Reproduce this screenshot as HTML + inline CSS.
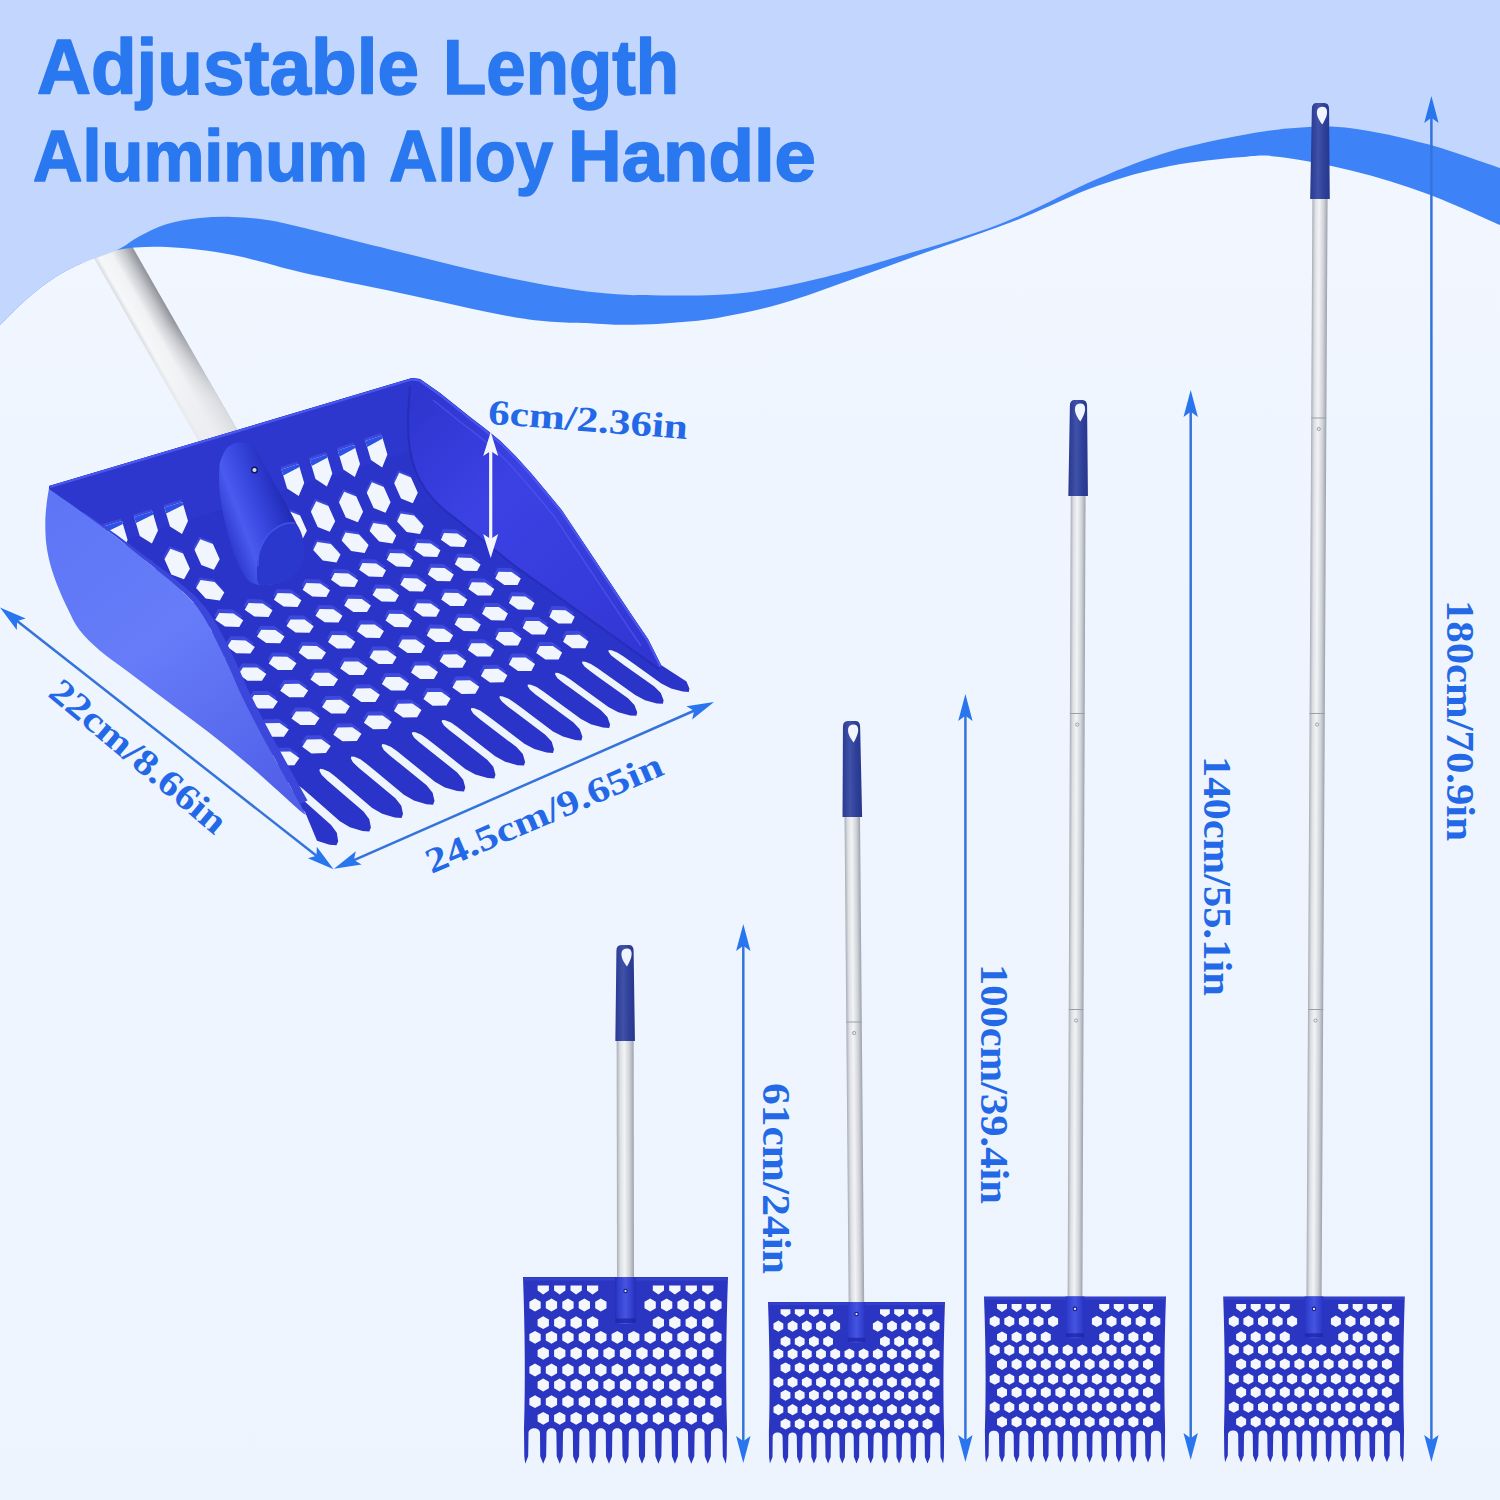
<!DOCTYPE html>
<html><head><meta charset="utf-8"><title>Adjustable Length Aluminum Alloy Handle</title>
<style>
html,body{margin:0;padding:0;background:#eef5fe}
svg{display:block}
.t{font-family:"Liberation Sans",sans-serif;font-weight:700;fill:#2a78f0}
.l{font-family:"Liberation Serif",serif;font-weight:700;fill:#2368e6}
</style></head><body>
<svg width="1500" height="1500" viewBox="0 0 1500 1500">
<defs><linearGradient id="bgl" x1="0" y1="0" x2="0" y2="1"><stop offset="0.12" stop-color="#f1f6ff"/><stop offset="0.45" stop-color="#eef5fe"/><stop offset="1" stop-color="#edf4fe"/></linearGradient></defs>
<rect x="0" y="0" width="1500" height="1500" fill="url(#bgl)"/>
<defs><linearGradient id="bpg" gradientUnits="userSpaceOnUse" x1="0" y1="0" x2="39" y2="0"><stop offset="0" stop-color="#d9dbe0"/><stop offset="0.12" stop-color="#f6f7f9"/><stop offset="0.45" stop-color="#f1f2f4"/><stop offset="0.75" stop-color="#c4c6cb"/><stop offset="1" stop-color="#8f9197"/></linearGradient><linearGradient id="bpf" gradientUnits="userSpaceOnUse" x1="0" y1="0" x2="0" y2="240"><stop offset="0" stop-color="#eef5fe" stop-opacity="0"/><stop offset="0.45" stop-color="#f4f5f7" stop-opacity="0"/><stop offset="0.8" stop-color="#eceef2" stop-opacity="0.75"/><stop offset="1" stop-color="#e9ebef" stop-opacity="0.85"/></linearGradient></defs>
<g transform="translate(87 246) rotate(-29.78)">
<rect x="0" y="-20" width="39" height="260" fill="url(#bpg)"/>
<rect x="0" y="-20" width="39" height="260" fill="url(#bpf)"/>
</g>
<path d="M0.0 325.0 C4.5 320.6 18.2 306.4 27.0 298.7 C35.8 291.0 44.2 284.5 53.0 278.7 C61.8 272.9 69.3 268.8 80.0 264.0 C90.7 259.2 102.5 252.8 117.0 250.0 C131.5 247.2 147.7 246.2 167.0 247.0 C186.3 247.8 210.8 250.8 233.0 255.0 C255.2 259.2 272.2 265.7 300.0 272.0 C327.8 278.3 362.8 285.2 400.0 293.0 C437.2 300.8 490.2 313.5 523.0 318.6 C555.8 323.7 578.7 322.7 597.0 323.7 C615.3 324.7 620.8 324.9 633.0 324.8 C645.2 324.7 657.7 323.9 670.0 323.0 C682.3 322.1 694.8 321.2 707.0 319.5 C719.2 317.8 730.8 315.6 743.0 313.0 C755.2 310.4 767.7 307.5 780.0 304.0 C792.3 300.5 804.8 296.2 817.0 292.0 C829.2 287.8 840.8 283.4 853.0 279.0 C865.2 274.6 877.7 270.0 890.0 265.5 C902.3 261.0 914.8 256.3 927.0 252.0 C939.2 247.7 947.0 245.2 963.0 239.5 C979.0 233.8 1000.7 226.4 1023.0 217.5 C1045.3 208.6 1072.5 194.6 1097.0 186.0 C1121.5 177.4 1145.7 170.8 1170.0 166.0 C1194.3 161.2 1224.7 158.5 1243.0 157.0 C1261.3 155.5 1261.7 154.7 1280.0 157.0 C1298.3 159.3 1328.5 164.9 1353.0 171.0 C1377.5 177.1 1402.5 184.7 1427.0 193.7 C1451.5 202.7 1487.8 219.8 1500.0 225.0 L1500 0 L0 0 Z" fill="#3d83f7"/>
<path d="M0.0 325.0 C4.5 320.6 18.2 306.4 27.0 298.7 C35.8 291.0 44.2 284.5 53.0 278.7 C61.8 272.9 69.3 268.8 80.0 264.0 C90.7 259.2 107.0 254.7 117.0 250.0 C127.0 245.3 131.7 240.3 140.0 236.0 C148.3 231.7 157.0 227.0 167.0 224.0 C177.0 221.0 189.0 219.2 200.0 218.0 C211.0 216.8 221.8 216.7 233.0 217.0 C244.2 217.3 255.8 218.3 267.0 220.0 C278.2 221.7 277.8 221.7 300.0 227.0 C322.2 232.3 366.7 243.8 400.0 252.0 C433.3 260.2 467.2 269.2 500.0 276.0 C532.8 282.8 568.7 289.4 597.0 292.6 C625.3 295.9 645.7 295.4 670.0 295.5 C694.3 295.6 718.5 295.8 743.0 293.0 C767.5 290.2 792.5 284.7 817.0 279.0 C841.5 273.3 859.5 268.2 890.0 259.0 C920.5 249.8 965.5 237.3 1000.0 224.0 C1034.5 210.7 1068.7 191.1 1097.0 179.0 C1125.3 166.9 1145.7 158.8 1170.0 151.5 C1194.3 144.2 1221.7 139.0 1243.0 135.0 C1264.3 131.0 1279.7 128.8 1298.0 127.7 C1316.3 126.6 1331.5 125.7 1353.0 128.4 C1374.5 131.1 1402.5 137.4 1427.0 144.0 C1451.5 150.6 1487.8 164.0 1500.0 168.0 L1500 0 L0 0 Z" fill="#c3d6fd"/>
<text x="37.0" y="93.5" font-size="77.5" textLength="382.0" lengthAdjust="spacingAndGlyphs" class="t" stroke="#2a78f0" stroke-width="1.6" stroke-linejoin="round">Adjustable</text>
<text x="443.0" y="93.5" font-size="77.5" textLength="236.0" lengthAdjust="spacingAndGlyphs" class="t" stroke="#2a78f0" stroke-width="1.6" stroke-linejoin="round">Length</text>
<text x="33.0" y="181.0" font-size="71.5" textLength="335.0" lengthAdjust="spacingAndGlyphs" class="t" stroke="#2a78f0" stroke-width="1.6" stroke-linejoin="round">Aluminum</text>
<text x="389.0" y="181.0" font-size="71.5" textLength="164.0" lengthAdjust="spacingAndGlyphs" class="t" stroke="#2a78f0" stroke-width="1.6" stroke-linejoin="round">Alloy</text>
<text x="568.0" y="181.0" font-size="71.5" textLength="248.0" lengthAdjust="spacingAndGlyphs" class="t" stroke="#2a78f0" stroke-width="1.6" stroke-linejoin="round">Handle</text>
<defs><linearGradient id="lw" gradientUnits="userSpaceOnUse" x1="60" y1="500" x2="290" y2="800"><stop offset="0" stop-color="#5e76f6"/><stop offset="0.45" stop-color="#667cf8"/><stop offset="1" stop-color="#4f5fe8"/></linearGradient><linearGradient id="rw" gradientUnits="userSpaceOnUse" x1="420" y1="400" x2="660" y2="660"><stop offset="0" stop-color="#2f36cf"/><stop offset="0.35" stop-color="#3c41e4"/><stop offset="1" stop-color="#3035d2"/></linearGradient><linearGradient id="bw" gradientUnits="userSpaceOnUse" x1="230" y1="430" x2="245" y2="480"><stop offset="0" stop-color="#2c36cc"/><stop offset="1" stop-color="#2a33c6"/></linearGradient></defs>
<path d="M49.0 486.0 L412.0 378.0 L420.0 379.0 L440.0 393.0 L455.0 405.0 L470.0 417.0 L485.0 428.5 L500.7 441.3 L516.0 456.5 L531.3 473.6 L546.0 491.0 L562.0 510.4 L577.0 533.0 L592.7 556.4 L608.0 579.4 L632.0 615.4 L648.0 639.0 L661.0 665.0 L686.5 681.4 L689.4 688.5 L688.8 691.9 L682.8 691.5 L671.1 688.4 L661.3 683.4 L631.7 662.3 L623.6 656.5 L617.2 652.5 L611.6 650.3 L608.7 650.0 L608.5 651.7 L611.0 655.2 L616.5 659.6 L624.6 665.4 L654.3 686.5 L660.8 693.1 L663.6 700.3 L662.9 703.8 L656.8 703.4 L645.0 700.2 L635.2 695.1 L605.4 673.8 L597.3 668.0 L590.9 663.9 L585.3 661.7 L582.3 661.4 L582.1 663.0 L584.5 666.6 L590.1 671.1 L598.2 676.9 L628.0 698.3 L634.4 705.0 L637.2 712.3 L636.4 715.8 L630.2 715.4 L618.3 712.2 L608.4 707.1 L578.6 685.4 L570.4 679.5 L564.1 675.4 L558.4 673.1 L555.4 672.8 L555.1 674.5 L557.5 678.2 L563.1 682.7 L571.2 688.6 L601.0 710.3 L607.4 717.0 L610.1 724.4 L609.2 728.0 L602.9 727.6 L590.9 724.3 L581.0 719.1 L551.2 697.2 L543.0 691.2 L536.6 687.0 L530.9 684.7 L527.9 684.4 L527.6 686.1 L530.0 689.8 L535.5 694.4 L543.7 700.4 L573.5 722.4 L579.8 729.2 L582.4 736.7 L581.4 740.4 L575.1 740.0 L563.0 736.6 L553.0 731.4 L523.2 709.1 L515.0 703.0 L508.7 698.8 L502.9 696.4 L499.8 696.1 L499.5 697.9 L501.9 701.6 L507.4 706.3 L515.5 712.3 L545.3 734.7 L551.6 741.6 L554.0 749.2 L553.0 752.9 L546.6 752.5 L534.4 749.1 L524.4 743.7 L494.6 721.1 L486.5 715.0 L480.1 710.6 L474.3 708.3 L471.3 708.0 L470.9 709.7 L473.2 713.5 L478.7 718.2 L486.8 724.4 L516.5 747.1 L522.8 754.1 L525.1 761.9 L524.0 765.6 L517.5 765.2 L505.2 761.7 L495.2 756.3 L465.5 733.3 L457.4 727.0 L451.0 722.6 L445.2 720.2 L442.1 719.9 L441.7 721.7 L444.0 725.5 L449.4 730.3 L457.5 736.6 L487.2 759.7 L493.3 766.8 L495.5 774.7 L494.3 778.5 L487.7 778.0 L475.3 774.5 L465.3 769.0 L435.8 745.6 L427.7 739.2 L421.4 734.7 L415.5 732.3 L412.4 732.0 L411.9 733.7 L414.2 737.7 L419.6 742.6 L427.7 749.0 L457.2 772.4 L463.2 779.7 L465.3 787.6 L464.0 791.5 L457.3 791.0 L444.9 787.4 L434.9 781.8 L405.5 758.0 L397.5 751.6 L391.2 747.0 L385.3 744.5 L382.2 744.1 L381.7 745.9 L383.8 749.9 L389.2 754.9 L397.2 761.4 L426.6 785.3 L432.6 792.7 L434.5 800.8 L433.1 804.7 L426.4 804.2 L413.9 800.6 L403.9 794.8 L374.7 770.6 L366.7 764.0 L360.4 759.3 L354.5 756.8 L351.4 756.4 L350.8 758.3 L352.9 762.3 L358.3 767.4 L366.2 774.0 L395.4 798.3 L401.3 805.8 L403.0 814.1 L401.5 818.1 L394.7 817.6 L382.2 813.8 L372.2 808.0 L343.2 783.3 L335.3 776.6 L329.1 771.8 L323.2 769.2 L320.0 768.8 L319.4 770.7 L321.5 774.8 L326.8 780.0 L334.6 786.7 L363.5 811.5 L369.3 819.2 L370.9 827.6 L369.3 831.6 L362.5 831.1 L349.9 827.3 L339.9 821.3 L311.2 796.1 L303.4 789.3 L297.2 784.4 L291.3 781.8 L288.1 781.4 L287.5 783.3 L289.4 787.5 L294.7 792.7 L302.5 799.6 L331.1 824.9 L336.8 832.7 L338.2 841.2 L336.5 845.3 L329.6 844.8 L317.0 840.8 L305.0 812.0 L160.0 683.0 L61.0 577.0 L49.0 510.0Z" fill="#2b34c8"/>
<path d="M49.0 486.0 L412.0 378.0 L410.0 420.0 L414.0 450.0 L60.0 560.0Z" fill="#2d37cd"/>
<path d="M412.0 378.0 L420.0 379.0 L440.0 393.0 L455.0 405.0 L470.0 417.0 L485.0 428.5 L500.7 441.3 L516.0 456.5 L531.3 473.6 L546.0 491.0 L562.0 510.4 L577.0 533.0 L592.7 556.4 L608.0 579.4 L632.0 615.4 L648.0 639.0 L661.0 665.0 L659.0 669.0 L620.0 641.0 L560.0 598.0 L520.0 569.6 L500.0 554.0 L480.0 538.0 L460.0 522.0 L440.0 506.0 L426.0 490.0 L416.0 472.0 L410.0 450.0 L408.0 420.0 L410.0 386.0Z" fill="url(#rw)"/>
<path d="M50.0 487.0 L411.5 379.5 L419.5 380.5 L439.5 394.5 L454.5 406.5 L469.5 418.5 L484.5 430.0 L500.2 442.8 L515.5 458.0 L530.8 475.1 L545.5 492.5 L561.5 511.9 L576.5 534.5 L592.2 557.9 L607.5 580.9 L631.5 616.9 L647.5 640.5 L660.5 666.5" fill="none" stroke="#4a57ee" stroke-width="2.2" stroke-linejoin="round"/>
<path d="M433.0 400.0 L448.0 412.0 L463.0 424.0 L478.0 435.5 L493.7 448.3 L509.0 463.5 L524.3 480.6 L539.0 498.0 L555.0 517.4 L570.0 540.0 L585.7 563.4 L601.0 586.4 L625.0 622.4 L641.0 646.0" fill="none" stroke="#4d55ec" stroke-width="1.4" opacity="0.8"/>
<path d="M410.0 386.0 C409.7 391.7 408.0 409.3 408.0 420.0 C408.0 430.7 408.7 441.3 410.0 450.0 C411.3 458.7 413.3 465.3 416.0 472.0 C418.7 478.7 422.0 484.3 426.0 490.0 C430.0 495.7 434.3 500.7 440.0 506.0 C445.7 511.3 453.3 516.7 460.0 522.0 C466.7 527.3 473.3 532.7 480.0 538.0 C486.7 543.3 493.3 548.7 500.0 554.0 C506.7 559.3 510.0 562.3 520.0 569.6 C530.0 576.9 543.3 586.1 560.0 598.0 C576.7 609.9 603.5 629.2 620.0 641.0 C636.5 652.8 652.5 664.3 659.0 669.0" fill="none" stroke="#2229b0" stroke-width="2" opacity="0.7"/>
<path d="M71.7 533.6 L90.3 527.9 L95.9 546.9 L89.6 560.1 L77.3 552.6Z M102.6 524.1 L121.0 518.4 L126.6 537.4 L120.5 550.6 L108.2 543.1Z M133.2 514.6 L151.4 508.9 L157.0 527.9 L150.9 541.1 L138.8 533.6Z M163.4 505.1 L181.4 499.4 L187.0 518.4 L181.0 531.6 L169.0 524.1Z M280.5 467.1 L297.6 461.4 L303.2 480.4 L297.7 493.6 L286.1 486.1Z M308.9 457.6 L325.7 451.9 L331.3 470.9 L325.9 484.1 L314.5 476.6Z M336.8 448.1 L353.4 442.4 L359.0 461.4 L353.8 474.6 L342.4 467.1Z M364.4 438.6 L380.8 432.9 L386.4 451.9 L381.2 465.1 L370.0 457.6Z M77.4 574.8 L90.5 579.5 L97.3 594.7 L91.0 605.2 L77.9 600.5 L71.1 585.3Z M108.5 565.3 L121.4 570.0 L128.2 585.2 L122.0 595.7 L109.1 591.0 L102.3 575.8Z M139.1 555.8 L152.0 560.5 L158.8 575.7 L152.7 586.2 L139.9 581.5 L133.1 566.3Z M169.4 546.3 L182.1 551.0 L188.9 566.2 L183.0 576.7 L170.3 572.0 L163.5 556.8Z M199.3 536.8 L211.9 541.5 L218.7 556.7 L212.9 567.2 L200.3 562.5 L193.5 547.3Z M286.8 508.3 L299.1 513.0 L305.9 528.2 L300.4 538.7 L288.1 534.0 L281.3 518.8Z M315.2 498.8 L327.4 503.5 L334.2 518.7 L328.8 529.2 L316.7 524.5 L309.9 509.3Z M343.2 489.3 L355.3 494.0 L362.1 509.2 L356.9 519.7 L344.8 515.0 L338.0 499.8Z M370.9 479.8 L382.8 484.5 L389.6 499.7 L384.5 510.2 L372.6 505.5 L365.8 490.3Z M398.2 470.3 L410.0 475.0 L416.8 490.2 L411.8 500.7 L400.0 496.0 L393.2 480.8Z M108.2 605.9 L122.6 608.1 L132.2 618.5 L127.4 626.6 L113.0 624.4 L103.4 614.0Z M139.0 596.4 L153.3 598.6 L162.9 609.0 L158.2 617.1 L143.9 614.9 L134.3 604.5Z M169.5 586.9 L183.7 589.1 L193.3 599.5 L188.7 607.6 L174.5 605.4 L164.9 595.0Z M199.6 577.4 L213.7 579.6 L223.3 590.0 L218.8 598.1 L204.7 595.9 L195.1 585.5Z M316.3 539.4 L329.9 541.6 L339.5 552.0 L335.5 560.1 L321.8 557.9 L312.2 547.5Z M344.5 529.9 L358.0 532.1 L367.6 542.5 L363.7 550.6 L350.2 548.4 L340.6 538.0Z M372.3 520.4 L385.7 522.6 L395.3 533.0 L391.5 541.1 L378.2 538.9 L368.6 528.5Z M399.8 510.9 L413.1 513.1 L422.7 523.5 L419.0 531.6 L405.7 529.4 L396.1 519.0Z M127.7 639.0 L142.4 639.5 L152.1 646.3 L147.7 653.0 L133.0 652.5 L123.3 645.7Z M158.3 629.0 L172.8 629.5 L182.5 636.3 L178.2 643.0 L163.7 642.5 L154.0 635.7Z M188.4 619.0 L202.9 619.5 L212.5 626.3 L208.4 633.0 L194.0 632.5 L184.3 625.7Z M218.2 609.0 L232.5 609.5 L242.2 616.3 L238.2 623.0 L223.9 622.5 L214.2 615.7Z M247.6 599.0 L261.8 599.5 L271.5 606.3 L267.6 613.0 L253.4 612.5 L243.7 605.7Z M276.7 589.0 L290.7 589.5 L300.4 596.3 L296.6 603.0 L282.6 602.5 L272.9 595.7Z M305.3 579.0 L319.3 579.5 L329.0 586.3 L325.3 593.0 L311.3 592.5 L301.6 585.7Z M333.6 569.0 L347.5 569.5 L357.2 576.3 L353.6 583.0 L339.7 582.5 L330.0 575.7Z M361.5 559.0 L375.3 559.5 L385.0 566.3 L381.5 573.0 L367.8 572.5 L358.1 565.7Z M389.1 549.0 L402.7 549.5 L412.4 556.3 L409.0 563.0 L395.4 562.5 L385.7 555.7Z M416.2 539.0 L429.7 539.5 L439.4 546.3 L436.2 553.0 L422.7 552.5 L413.0 545.7Z M443.0 529.0 L456.4 529.5 L466.1 536.3 L463.0 543.0 L449.6 542.5 L439.9 535.7Z M169.8 657.0 L184.2 657.2 L193.4 663.7 L188.7 670.4 L174.3 670.2 L165.1 663.7Z M200.3 646.6 L214.6 646.8 L223.8 653.3 L219.2 660.0 L205.0 659.8 L195.8 653.2Z M230.5 636.1 L244.7 636.4 L253.8 642.9 L249.4 649.6 L235.3 649.3 L226.1 642.8Z M260.3 625.8 L274.3 626.0 L283.5 632.5 L279.2 639.2 L265.2 639.0 L256.0 632.4Z M289.6 615.4 L303.5 615.6 L312.7 622.2 L308.5 628.8 L294.6 628.6 L285.5 622.0Z M318.6 605.0 L332.4 605.3 L341.5 611.8 L337.5 618.5 L323.7 618.2 L314.5 611.7Z M347.1 594.7 L360.8 595.0 L369.9 601.5 L366.0 608.1 L352.4 607.9 L343.2 601.4Z M375.3 584.4 L388.8 584.7 L398.0 591.2 L394.2 597.8 L380.6 597.6 L371.5 591.0Z M403.0 574.1 L416.4 574.4 L425.6 580.9 L421.9 587.5 L408.5 587.3 L399.3 580.8Z M430.3 563.8 L443.6 564.1 L452.8 570.6 L449.2 577.3 L436.0 577.0 L426.8 570.5Z M457.2 553.6 L470.4 553.9 L479.6 560.4 L476.1 567.0 L463.0 566.8 L453.8 560.2Z M180.4 685.1 L194.9 685.2 L204.1 691.7 L199.3 698.6 L184.8 698.5 L175.6 692.0Z M211.4 674.2 L225.8 674.3 L235.0 680.9 L230.3 687.7 L215.9 687.6 L206.7 681.1Z M242.0 663.4 L256.3 663.5 L265.4 670.0 L260.9 676.8 L246.6 676.7 L237.4 670.2Z M272.1 652.6 L286.3 652.7 L295.5 659.2 L291.0 666.0 L276.9 665.9 L267.7 659.4Z M301.8 641.8 L315.8 642.0 L325.0 648.5 L320.7 655.3 L306.7 655.2 L297.6 648.6Z M331.1 631.1 L345.0 631.3 L354.2 637.8 L350.0 644.6 L336.1 644.4 L327.0 637.9Z M359.9 620.5 L373.7 620.6 L382.9 627.1 L378.8 633.9 L365.1 633.7 L355.9 627.2Z M388.3 609.8 L401.9 610.0 L411.1 616.5 L407.2 623.3 L393.6 623.1 L384.5 616.6Z M416.3 599.2 L429.8 599.4 L438.9 605.9 L435.2 612.7 L421.7 612.5 L412.6 606.0Z M443.8 588.7 L457.1 588.9 L466.3 595.4 L462.7 602.1 L449.4 601.9 L440.2 595.4Z M470.9 578.2 L484.1 578.4 L493.3 584.9 L489.8 591.6 L476.6 591.4 L467.4 584.9Z M497.6 567.7 L510.6 567.9 L519.8 574.4 L516.5 581.1 L503.4 580.9 L494.2 574.4Z M222.2 702.4 L236.7 702.3 L245.9 708.9 L241.1 715.8 L226.5 715.9 L217.3 709.4Z M253.2 691.1 L267.6 691.1 L276.8 697.6 L272.1 704.5 L257.7 704.6 L248.5 698.0Z M283.7 679.9 L298.0 679.8 L307.2 686.4 L302.6 693.3 L288.4 693.3 L279.2 686.8Z M313.8 668.7 L327.9 668.7 L337.1 675.2 L332.7 682.1 L318.6 682.1 L309.4 675.6Z M343.4 657.6 L357.4 657.6 L366.6 664.1 L362.3 671.0 L348.4 671.0 L339.2 664.5Z M372.6 646.5 L386.4 646.6 L395.6 653.1 L391.5 660.0 L377.7 659.9 L368.5 653.4Z M401.3 635.6 L414.9 635.6 L424.1 642.1 L420.2 649.0 L406.5 648.9 L397.3 642.4Z M429.5 624.6 L443.0 624.7 L452.2 631.2 L448.4 638.1 L434.8 638.0 L425.7 631.5Z M457.2 613.8 L470.6 613.9 L479.8 620.4 L476.1 627.2 L462.7 627.1 L453.6 620.6Z M484.5 603.0 L497.8 603.1 L506.9 609.6 L503.4 616.4 L490.2 616.3 L481.0 609.8Z M511.3 592.2 L524.4 592.4 L533.6 598.9 L530.2 605.7 L517.1 605.5 L507.9 599.0Z M232.5 731.0 L247.2 730.8 L256.4 737.3 L251.4 744.4 L236.7 744.6 L227.6 738.1Z M264.0 719.2 L278.6 719.0 L287.8 725.6 L282.9 732.7 L268.4 732.8 L259.2 726.3Z M295.0 707.5 L309.4 707.4 L318.6 713.9 L313.9 721.0 L299.5 721.1 L290.4 714.6Z M325.5 695.9 L339.8 695.8 L348.9 702.3 L344.4 709.4 L330.2 709.5 L321.0 703.0Z M355.5 684.4 L369.6 684.3 L378.8 690.8 L374.4 697.9 L360.3 698.0 L351.2 691.4Z M385.0 673.0 L398.9 672.9 L408.1 679.4 L403.9 686.4 L390.0 686.5 L380.8 680.0Z M414.0 661.6 L427.8 661.6 L437.0 668.1 L432.9 675.1 L419.2 675.1 L410.0 668.6Z M442.5 650.4 L456.1 650.3 L465.3 656.9 L461.4 663.8 L447.8 663.8 L438.6 657.3Z M470.5 639.2 L484.0 639.2 L493.2 645.7 L489.4 652.6 L476.0 652.6 L466.8 646.1Z M498.0 628.1 L511.3 628.1 L520.5 634.6 L516.9 641.5 L503.6 641.5 L494.4 634.9Z M525.0 617.0 L538.2 617.1 L547.4 623.6 L543.9 630.5 L530.8 630.4 L521.6 623.9Z M551.5 606.1 L564.6 606.2 L573.7 612.7 L570.5 619.5 L557.4 619.4 L548.3 612.9Z M274.5 747.8 L289.2 747.5 L298.4 754.0 L293.4 761.2 L278.7 761.6 L269.6 755.0Z M306.0 735.6 L320.5 735.3 L329.7 741.9 L324.9 749.1 L310.4 749.4 L301.2 742.8Z M336.9 723.6 L351.3 723.3 L360.5 729.8 L355.8 737.0 L341.5 737.3 L332.3 730.8Z M367.4 711.6 L381.6 711.4 L390.7 717.9 L386.3 725.1 L372.1 725.3 L362.9 718.8Z M397.2 699.8 L411.3 699.6 L420.5 706.1 L416.1 713.2 L402.1 713.4 L392.9 706.9Z M426.6 688.0 L440.5 687.9 L449.6 694.4 L445.5 701.5 L431.6 701.7 L422.4 695.1Z M455.4 676.4 L469.1 676.3 L478.3 682.8 L474.3 689.8 L460.6 690.0 L451.4 683.4Z M483.7 664.9 L497.2 664.8 L506.4 671.3 L502.6 678.3 L489.1 678.4 L479.9 671.9Z M511.5 653.4 L524.8 653.4 L534.0 659.9 L530.4 666.9 L517.0 666.9 L507.8 660.4Z M538.7 642.1 L551.9 642.0 L561.1 648.6 L557.6 655.5 L544.4 655.6 L535.2 649.0Z M565.4 630.9 L578.5 630.8 L587.6 637.4 L584.3 644.3 L571.2 644.3 L562.1 637.8Z" fill="#3d49dc"/>
<path d="M72.7 536.1 L91.3 530.4 L96.9 549.4 L90.6 562.6 L78.3 555.1Z M103.6 526.6 L122.0 520.9 L127.6 539.9 L121.5 553.1 L109.2 545.6Z M134.2 517.1 L152.4 511.4 L158.0 530.4 L151.9 543.6 L139.8 536.1Z M164.4 507.6 L182.4 501.9 L188.0 520.9 L182.0 534.1 L170.0 526.6Z M281.5 469.6 L298.6 463.9 L304.2 482.9 L298.7 496.1 L287.1 488.6Z M309.9 460.1 L326.7 454.4 L332.3 473.4 L326.9 486.6 L315.5 479.1Z M337.8 450.6 L354.4 444.9 L360.0 463.9 L354.8 477.1 L343.4 469.6Z M365.4 441.1 L381.8 435.4 L387.4 454.4 L382.2 467.6 L371.0 460.1Z M78.4 577.3 L91.5 582.0 L98.3 597.2 L92.0 607.7 L78.9 603.0 L72.1 587.8Z M109.5 567.8 L122.4 572.5 L129.2 587.7 L123.0 598.2 L110.1 593.5 L103.3 578.3Z M140.1 558.3 L153.0 563.0 L159.8 578.2 L153.7 588.7 L140.9 584.0 L134.1 568.8Z M170.4 548.8 L183.1 553.5 L189.9 568.7 L184.0 579.2 L171.3 574.5 L164.5 559.3Z M200.3 539.3 L212.9 544.0 L219.7 559.2 L213.9 569.7 L201.3 565.0 L194.5 549.8Z M287.8 510.8 L300.1 515.5 L306.9 530.7 L301.4 541.2 L289.1 536.5 L282.3 521.3Z M316.2 501.3 L328.4 506.0 L335.2 521.2 L329.8 531.7 L317.7 527.0 L310.9 511.8Z M344.2 491.8 L356.3 496.5 L363.1 511.7 L357.9 522.2 L345.8 517.5 L339.0 502.3Z M371.9 482.3 L383.8 487.0 L390.6 502.2 L385.5 512.7 L373.6 508.0 L366.8 492.8Z M399.2 472.8 L411.0 477.5 L417.8 492.7 L412.8 503.2 L401.0 498.5 L394.2 483.3Z M109.2 608.4 L123.6 610.6 L133.2 621.0 L128.4 629.1 L114.0 626.9 L104.4 616.5Z M140.0 598.9 L154.3 601.1 L163.9 611.5 L159.2 619.6 L144.9 617.4 L135.3 607.0Z M170.5 589.4 L184.7 591.6 L194.3 602.0 L189.7 610.1 L175.5 607.9 L165.9 597.5Z M200.6 579.9 L214.7 582.1 L224.3 592.5 L219.8 600.6 L205.7 598.4 L196.1 588.0Z M317.3 541.9 L330.9 544.1 L340.5 554.5 L336.5 562.6 L322.8 560.4 L313.2 550.0Z M345.5 532.4 L359.0 534.6 L368.6 545.0 L364.7 553.1 L351.2 550.9 L341.6 540.5Z M373.3 522.9 L386.7 525.1 L396.3 535.5 L392.5 543.6 L379.2 541.4 L369.6 531.0Z M400.8 513.4 L414.1 515.6 L423.7 526.0 L420.0 534.1 L406.7 531.9 L397.1 521.5Z M128.7 643.0 L143.4 643.5 L153.1 650.3 L148.7 657.0 L134.0 656.5 L124.3 649.7Z M159.3 633.0 L173.8 633.5 L183.5 640.3 L179.2 647.0 L164.7 646.5 L155.0 639.7Z M189.4 623.0 L203.9 623.5 L213.5 630.3 L209.4 637.0 L195.0 636.5 L185.3 629.7Z M219.2 613.0 L233.5 613.5 L243.2 620.3 L239.2 627.0 L224.9 626.5 L215.2 619.7Z M248.6 603.0 L262.8 603.5 L272.5 610.3 L268.6 617.0 L254.4 616.5 L244.7 609.7Z M277.7 593.0 L291.7 593.5 L301.4 600.3 L297.6 607.0 L283.6 606.5 L273.9 599.7Z M306.3 583.0 L320.3 583.5 L330.0 590.3 L326.3 597.0 L312.3 596.5 L302.6 589.7Z M334.6 573.0 L348.5 573.5 L358.2 580.3 L354.6 587.0 L340.7 586.5 L331.0 579.7Z M362.5 563.0 L376.3 563.5 L386.0 570.3 L382.5 577.0 L368.8 576.5 L359.1 569.7Z M390.1 553.0 L403.7 553.5 L413.4 560.3 L410.0 567.0 L396.4 566.5 L386.7 559.7Z M417.2 543.0 L430.7 543.5 L440.4 550.3 L437.2 557.0 L423.7 556.5 L414.0 549.7Z M444.0 533.0 L457.4 533.5 L467.1 540.3 L464.0 547.0 L450.6 546.5 L440.9 539.7Z M170.8 661.0 L185.2 661.2 L194.4 667.7 L189.7 674.4 L175.3 674.2 L166.1 667.7Z M201.3 650.6 L215.6 650.8 L224.8 657.3 L220.2 664.0 L206.0 663.8 L196.8 657.2Z M231.5 640.1 L245.7 640.4 L254.8 646.9 L250.4 653.6 L236.3 653.3 L227.1 646.8Z M261.3 629.8 L275.3 630.0 L284.5 636.5 L280.2 643.2 L266.2 643.0 L257.0 636.4Z M290.6 619.4 L304.5 619.6 L313.7 626.2 L309.5 632.8 L295.6 632.6 L286.5 626.0Z M319.6 609.0 L333.4 609.3 L342.5 615.8 L338.5 622.5 L324.7 622.2 L315.5 615.7Z M348.1 598.7 L361.8 599.0 L370.9 605.5 L367.0 612.1 L353.4 611.9 L344.2 605.4Z M376.3 588.4 L389.8 588.7 L399.0 595.2 L395.2 601.8 L381.6 601.6 L372.5 595.0Z M404.0 578.1 L417.4 578.4 L426.6 584.9 L422.9 591.5 L409.5 591.3 L400.3 584.8Z M431.3 567.8 L444.6 568.1 L453.8 574.6 L450.2 581.3 L437.0 581.0 L427.8 574.5Z M458.2 557.6 L471.4 557.9 L480.6 564.4 L477.1 571.0 L464.0 570.8 L454.8 564.2Z M181.4 689.1 L195.9 689.2 L205.1 695.7 L200.3 702.6 L185.8 702.5 L176.6 696.0Z M212.4 678.2 L226.8 678.3 L236.0 684.9 L231.3 691.7 L216.9 691.6 L207.7 685.1Z M243.0 667.4 L257.3 667.5 L266.4 674.0 L261.9 680.8 L247.6 680.7 L238.4 674.2Z M273.1 656.6 L287.3 656.7 L296.5 663.2 L292.0 670.0 L277.9 669.9 L268.7 663.4Z M302.8 645.8 L316.8 646.0 L326.0 652.5 L321.7 659.3 L307.7 659.2 L298.6 652.6Z M332.1 635.1 L346.0 635.3 L355.2 641.8 L351.0 648.6 L337.1 648.4 L328.0 641.9Z M360.9 624.5 L374.7 624.6 L383.9 631.1 L379.8 637.9 L366.1 637.7 L356.9 631.2Z M389.3 613.8 L402.9 614.0 L412.1 620.5 L408.2 627.3 L394.6 627.1 L385.5 620.6Z M417.3 603.2 L430.8 603.4 L439.9 609.9 L436.2 616.7 L422.7 616.5 L413.6 610.0Z M444.8 592.7 L458.1 592.9 L467.3 599.4 L463.7 606.1 L450.4 605.9 L441.2 599.4Z M471.9 582.2 L485.1 582.4 L494.3 588.9 L490.8 595.6 L477.6 595.4 L468.4 588.9Z M498.6 571.7 L511.6 571.9 L520.8 578.4 L517.5 585.1 L504.4 584.9 L495.2 578.4Z M223.2 706.4 L237.7 706.3 L246.9 712.9 L242.1 719.8 L227.5 719.9 L218.3 713.4Z M254.2 695.1 L268.6 695.1 L277.8 701.6 L273.1 708.5 L258.7 708.6 L249.5 702.0Z M284.7 683.9 L299.0 683.8 L308.2 690.4 L303.6 697.3 L289.4 697.3 L280.2 690.8Z M314.8 672.7 L328.9 672.7 L338.1 679.2 L333.7 686.1 L319.6 686.1 L310.4 679.6Z M344.4 661.6 L358.4 661.6 L367.6 668.1 L363.3 675.0 L349.4 675.0 L340.2 668.5Z M373.6 650.5 L387.4 650.6 L396.6 657.1 L392.5 664.0 L378.7 663.9 L369.5 657.4Z M402.3 639.6 L415.9 639.6 L425.1 646.1 L421.2 653.0 L407.5 652.9 L398.3 646.4Z M430.5 628.6 L444.0 628.7 L453.2 635.2 L449.4 642.1 L435.8 642.0 L426.7 635.5Z M458.2 617.8 L471.6 617.9 L480.8 624.4 L477.1 631.2 L463.7 631.1 L454.6 624.6Z M485.5 607.0 L498.8 607.1 L507.9 613.6 L504.4 620.4 L491.2 620.3 L482.0 613.8Z M512.3 596.2 L525.4 596.4 L534.6 602.9 L531.2 609.7 L518.1 609.5 L508.9 603.0Z M233.5 735.0 L248.2 734.8 L257.4 741.3 L252.4 748.4 L237.7 748.6 L228.6 742.1Z M265.0 723.2 L279.6 723.0 L288.8 729.6 L283.9 736.7 L269.4 736.8 L260.2 730.3Z M296.0 711.5 L310.4 711.4 L319.6 717.9 L314.9 725.0 L300.5 725.1 L291.4 718.6Z M326.5 699.9 L340.8 699.8 L349.9 706.3 L345.4 713.4 L331.2 713.5 L322.0 707.0Z M356.5 688.4 L370.6 688.3 L379.8 694.8 L375.4 701.9 L361.3 702.0 L352.2 695.4Z M386.0 677.0 L399.9 676.9 L409.1 683.4 L404.9 690.4 L391.0 690.5 L381.8 684.0Z M415.0 665.6 L428.8 665.6 L438.0 672.1 L433.9 679.1 L420.2 679.1 L411.0 672.6Z M443.5 654.4 L457.1 654.3 L466.3 660.9 L462.4 667.8 L448.8 667.8 L439.6 661.3Z M471.5 643.2 L485.0 643.2 L494.2 649.7 L490.4 656.6 L477.0 656.6 L467.8 650.1Z M499.0 632.1 L512.3 632.1 L521.5 638.6 L517.9 645.5 L504.6 645.5 L495.4 638.9Z M526.0 621.0 L539.2 621.1 L548.4 627.6 L544.9 634.5 L531.8 634.4 L522.6 627.9Z M552.5 610.1 L565.6 610.2 L574.7 616.7 L571.5 623.5 L558.4 623.4 L549.3 616.9Z M275.5 751.8 L290.2 751.5 L299.4 758.0 L294.4 765.2 L279.7 765.6 L270.6 759.0Z M307.0 739.6 L321.5 739.3 L330.7 745.9 L325.9 753.1 L311.4 753.4 L302.2 746.8Z M337.9 727.6 L352.3 727.3 L361.5 733.8 L356.8 741.0 L342.5 741.3 L333.3 734.8Z M368.4 715.6 L382.6 715.4 L391.7 721.9 L387.3 729.1 L373.1 729.3 L363.9 722.8Z M398.2 703.8 L412.3 703.6 L421.5 710.1 L417.1 717.2 L403.1 717.4 L393.9 710.9Z M427.6 692.0 L441.5 691.9 L450.6 698.4 L446.5 705.5 L432.6 705.7 L423.4 699.1Z M456.4 680.4 L470.1 680.3 L479.3 686.8 L475.3 693.8 L461.6 694.0 L452.4 687.4Z M484.7 668.9 L498.2 668.8 L507.4 675.3 L503.6 682.3 L490.1 682.4 L480.9 675.9Z M512.5 657.4 L525.8 657.4 L535.0 663.9 L531.4 670.9 L518.0 670.9 L508.8 664.4Z M539.7 646.1 L552.9 646.0 L562.1 652.6 L558.6 659.5 L545.4 659.6 L536.2 653.0Z M566.4 634.9 L579.5 634.8 L588.6 641.4 L585.3 648.3 L572.2 648.3 L563.1 641.8Z" fill="#f1f6fe"/>
<path d="M72.7 536.1 L91.3 530.4 L92.2 533.4 L74.5 542.1Z M103.6 526.6 L122.0 520.9 L122.9 523.9 L105.4 532.6Z M134.2 517.1 L152.4 511.4 L153.3 514.4 L136.0 523.1Z M164.4 507.6 L182.4 501.9 L183.3 504.9 L166.2 513.6Z M281.5 469.6 L298.6 463.9 L299.5 466.9 L283.3 475.6Z M309.9 460.1 L326.7 454.4 L327.6 457.4 L311.7 466.1Z M337.8 450.6 L354.4 444.9 L355.3 447.9 L339.6 456.6Z M365.4 441.1 L381.8 435.4 L382.7 438.4 L367.2 447.1Z" fill="#2d50e6"/>
<defs><linearGradient id="sk" gradientUnits="userSpaceOnUse" x1="222" y1="522" x2="292" y2="496"><stop offset="0" stop-color="#2e3bd0"/><stop offset="0.25" stop-color="#4a5bf0"/><stop offset="0.5" stop-color="#3948e0"/><stop offset="0.8" stop-color="#2632c2"/><stop offset="1" stop-color="#1e27a6"/></linearGradient></defs>
<path d="M235.6 442.8 C234.2 443.7 229.3 445.5 227.0 448.0 C224.7 450.5 222.8 454.7 221.5 458.0 C220.2 461.3 219.7 462.3 219.4 468.0 C219.1 473.7 218.9 484.0 219.6 492.0 C220.3 500.0 221.9 508.0 223.6 516.0 C225.3 524.0 227.2 532.0 229.6 540.0 C232.0 548.0 235.0 557.4 238.0 564.0 C241.0 570.6 244.4 576.2 247.6 579.6 C250.8 583.0 253.2 583.7 257.2 584.5 C261.2 585.3 266.8 585.3 271.6 584.5 C276.4 583.7 281.6 581.9 286.0 579.6 C290.4 577.4 295.0 574.6 298.0 571.0 C301.0 567.4 303.2 563.2 304.0 558.0 C304.8 552.8 304.2 546.0 302.8 540.0 C301.4 534.0 298.4 528.0 295.6 522.0 C292.8 516.0 289.6 510.6 286.0 504.0 C282.4 497.4 277.6 488.8 274.0 482.4 C270.4 476.0 267.4 471.0 264.4 465.6 C261.4 460.2 258.8 453.7 256.0 450.0 C253.2 446.3 251.0 444.7 247.6 443.5 C244.2 442.3 237.6 442.9 235.6 442.8Z" fill="url(#sk)"/>
<path d="M264.4 540.0 C265.7 538.5 268.7 533.7 272.0 531.0 C275.3 528.3 280.2 525.3 284.0 524.0 C287.8 522.7 291.9 520.8 295.0 523.0 C298.1 525.2 301.0 531.2 302.5 537.0 C304.0 542.8 304.8 552.3 304.0 558.0 C303.2 563.7 301.0 567.4 298.0 571.0 C295.0 574.6 290.4 577.4 286.0 579.6 C281.6 581.9 276.1 583.8 271.6 584.5 C267.1 585.2 261.4 586.4 259.0 584.0 C256.6 581.6 257.0 575.2 257.0 570.0 C257.0 564.8 257.8 558.0 259.0 553.0 C260.2 548.0 263.5 542.2 264.4 540.0Z" fill="#2b38cd"/>
<path d="M258.0 566.0 C258.2 563.8 257.9 557.3 259.0 553.0 C260.1 548.7 262.2 543.7 264.4 540.0 C266.6 536.3 268.7 533.7 272.0 531.0 C275.3 528.3 280.2 525.3 284.0 524.0 C287.8 522.7 293.2 523.2 295.0 523.0" fill="none" stroke="#4556ea" stroke-width="1.6" opacity="0.9"/>
<circle cx="254.5" cy="470" r="2.8" fill="#d9dce6" stroke="#10165e" stroke-width="1.4"/>
<path d="M300.0 804.0 C298.9 802.0 296.6 798.0 293.3 792.0 C290.0 786.0 284.4 776.0 280.0 768.0 C275.6 760.0 271.1 752.2 266.7 744.0 C262.2 735.8 257.8 727.4 253.3 718.7 C248.9 710.0 243.9 700.3 240.0 692.0 C236.1 683.7 233.3 676.3 230.0 669.0 C226.7 661.7 223.3 654.8 220.0 648.0 C216.7 641.2 213.3 634.2 210.0 628.0 C206.7 621.8 203.4 616.0 200.0 611.0 C196.6 606.0 194.6 603.4 189.3 598.0 C184.0 592.6 175.1 584.8 168.0 578.8 C160.9 572.8 155.6 568.8 146.7 561.7 C137.8 554.6 125.4 544.3 114.7 536.1 C104.0 527.9 88.0 516.6 82.7 512.7 L83.9 512.2 L117.0 535.0 L150.3 560.0 L172.5 576.7 L194.7 595.5 L206.1 608.2 L216.9 624.8 L227.5 644.5 L237.5 665.5 L247.5 688.5 L260.8 715.2 L274.2 740.5 L287.5 764.5 L300.8 788.5 L307.5 800.5 Z" fill="#3a47da"/>
<path d="M49.0 488.0 C48.6 490.8 47.1 499.2 46.5 505.0 C45.9 510.8 45.3 516.3 45.3 523.0 C45.3 529.7 45.5 537.8 46.4 545.0 C47.3 552.2 48.8 559.0 50.7 566.0 C52.7 573.0 55.3 580.2 58.1 587.3 C60.9 594.4 64.1 601.6 67.7 608.7 C71.3 615.8 74.1 623.0 79.5 630.0 C84.9 637.0 92.1 643.9 100.0 650.7 C107.9 657.5 117.8 664.0 126.7 670.7 C135.6 677.4 144.4 684.0 153.3 690.7 C162.2 697.4 171.1 704.0 180.0 710.7 C188.9 717.4 197.8 723.8 206.7 730.7 C215.6 737.6 224.4 744.7 233.3 752.0 C242.2 759.3 251.1 766.9 260.0 774.7 C268.9 782.5 280.0 792.7 286.7 798.7 C293.4 804.7 296.8 808.0 300.0 810.7 C303.2 813.4 305.0 814.3 306.0 815.0 C305.0 813.2 302.1 807.8 300.0 804.0 C297.9 800.2 296.6 798.0 293.3 792.0 C290.0 786.0 284.4 776.0 280.0 768.0 C275.6 760.0 271.1 752.2 266.7 744.0 C262.2 735.8 257.8 727.4 253.3 718.7 C248.9 710.0 243.9 700.3 240.0 692.0 C236.1 683.7 233.3 676.3 230.0 669.0 C226.7 661.7 223.3 654.8 220.0 648.0 C216.7 641.2 213.3 634.2 210.0 628.0 C206.7 621.8 203.4 616.0 200.0 611.0 C196.6 606.0 194.6 603.4 189.3 598.0 C184.0 592.6 175.1 584.8 168.0 578.8 C160.9 572.8 155.6 568.8 146.7 561.7 C137.8 554.6 125.4 544.3 114.7 536.1 C104.0 527.9 93.5 520.5 82.7 512.7 C71.9 504.9 55.1 493.4 49.6 489.5 Z" fill="url(#lw)"/>
<defs><linearGradient id="sockgrad" gradientUnits="userSpaceOnUse" x1="-11" x2="11" y1="0" y2="0"><stop offset="0" stop-color="#232db4"/><stop offset="0.18" stop-color="#313ed0"/><stop offset="0.5" stop-color="#4555e0"/><stop offset="0.82" stop-color="#2f3bcc"/><stop offset="1" stop-color="#222bb0"/></linearGradient><linearGradient id="gripgrad" gradientUnits="userSpaceOnUse" x1="-10" x2="10" y1="0" y2="0"><stop offset="0" stop-color="#293890"/><stop offset="0.4" stop-color="#4051a8"/><stop offset="0.7" stop-color="#2f409a"/><stop offset="1" stop-color="#27368c"/></linearGradient><linearGradient id="polegrad" x1="0" x2="1" y1="0" y2="0"><stop offset="0" stop-color="#a9aeb6"/><stop offset="0.2" stop-color="#dcdfe4"/><stop offset="0.45" stop-color="#f2f3f5"/><stop offset="0.75" stop-color="#cfd2d8"/><stop offset="1" stop-color="#9da2ab"/></linearGradient></defs>
<g transform="translate(625.5 1281.0) rotate(-0.085)">
<rect x="-8.5" y="-246.0" width="17.0" height="246.0" fill="url(#polegrad)"/>
<path d="M-9.8 -240.0 L-8.6 -330.0 Q-8.6 -336.0 -3.8 -336.0 L3.8 -336.0 Q8.6 -336.0 8.6 -330.0 L9.8 -240.0 Z" fill="url(#gripgrad)"/>
<path d="M2 -332.4 C7.4 -332.4 7.8 -326.0 4.8 -320.0 Q3 -316.0 2 -314.5 Q0.4 -316.0 -2.2 -321.0 C-4.8 -327.0 -3.8 -332.4 2 -332.4 Z" fill="#f1f5fd"/>
</g>
<path d="M523.0 1277.0 L728.0 1277.0 Q725.0 1360.7 727.0 1428.0 L727.0 1428.0 L726.7 1456.3 L725.8 1463.8 L722.8 1456.3 L722.5 1433.0 C722.5 1426.5 711.0 1426.5 711.0 1433.0 L711.0 1433.0 L710.8 1456.3 L707.8 1463.8 L704.8 1456.3 L704.5 1433.0 C704.5 1426.5 694.6 1426.5 694.6 1433.0 L694.6 1433.0 L694.3 1456.3 L691.3 1463.8 L688.3 1456.3 L688.0 1433.0 C688.0 1426.5 678.1 1426.5 678.1 1433.0 L678.1 1433.0 L677.9 1456.3 L674.9 1463.8 L671.9 1456.3 L671.6 1433.0 C671.6 1426.5 661.7 1426.5 661.7 1433.0 L661.7 1433.0 L661.4 1456.3 L658.4 1463.8 L655.4 1456.3 L655.1 1433.0 C655.1 1426.5 645.2 1426.5 645.2 1433.0 L645.2 1433.0 L645.0 1456.3 L642.0 1463.8 L639.0 1456.3 L638.7 1433.0 C638.7 1426.5 628.8 1426.5 628.8 1433.0 L628.8 1433.0 L628.5 1456.3 L625.5 1463.8 L622.5 1456.3 L622.2 1433.0 C622.2 1426.5 612.3 1426.5 612.3 1433.0 L612.3 1433.0 L612.0 1456.3 L609.0 1463.8 L606.0 1456.3 L605.8 1433.0 C605.8 1426.5 595.9 1426.5 595.9 1433.0 L595.9 1433.0 L595.6 1456.3 L592.6 1463.8 L589.6 1456.3 L589.3 1433.0 C589.3 1426.5 579.4 1426.5 579.4 1433.0 L579.4 1433.0 L579.1 1456.3 L576.1 1463.8 L573.1 1456.3 L572.9 1433.0 C572.9 1426.5 563.0 1426.5 563.0 1433.0 L563.0 1433.0 L562.7 1456.3 L559.7 1463.8 L556.7 1456.3 L556.4 1433.0 C556.4 1426.5 546.5 1426.5 546.5 1433.0 L546.5 1433.0 L546.2 1456.3 L543.2 1463.8 L540.2 1456.3 L540.0 1433.0 C540.0 1426.5 528.5 1426.5 528.5 1433.0 L528.5 1433.0 L528.2 1456.3 L525.2 1463.8 L524.3 1456.3 L524.0 1428.0 Q526.0 1360.7 523.0 1277.0 Z" fill="#2a35c2"/>
<rect x="524.0" y="1277.5" width="203.0" height="3.2" fill="#3a48cf" opacity="0.6"/>
<path d="M537.6 1285.4 L548.9 1285.4 L548.9 1290.5 L543.2 1294.4 L537.6 1290.5Z M554.1 1285.4 L565.4 1285.4 L565.4 1290.5 L559.7 1294.4 L554.1 1290.5Z M570.5 1285.4 L581.8 1285.4 L581.8 1290.5 L576.1 1294.4 L570.5 1290.5Z M587.0 1285.4 L598.2 1285.4 L598.2 1290.5 L592.6 1294.4 L587.0 1290.5Z M652.8 1285.4 L664.0 1285.4 L664.0 1290.5 L658.4 1294.4 L652.8 1290.5Z M669.2 1285.4 L680.5 1285.4 L680.5 1290.5 L674.9 1294.4 L669.2 1290.5Z M685.6 1285.4 L696.9 1285.4 L696.9 1290.5 L691.3 1294.4 L685.6 1290.5Z M702.1 1285.4 L713.4 1285.4 L713.4 1290.5 L707.8 1294.4 L702.1 1290.5Z M535.0 1298.6 L540.7 1301.8 L540.7 1308.2 L535.0 1311.4 L529.4 1308.2 L529.4 1301.8Z M551.5 1298.6 L557.1 1301.8 L557.1 1308.2 L551.5 1311.4 L545.8 1308.2 L545.8 1301.8Z M567.9 1298.6 L573.6 1301.8 L573.6 1308.2 L567.9 1311.4 L562.3 1308.2 L562.3 1301.8Z M584.4 1298.6 L590.0 1301.8 L590.0 1308.2 L584.4 1311.4 L578.7 1308.2 L578.7 1301.8Z M600.8 1298.6 L606.5 1301.8 L606.5 1308.2 L600.8 1311.4 L595.2 1308.2 L595.2 1301.8Z M650.2 1298.6 L655.8 1301.8 L655.8 1308.2 L650.2 1311.4 L644.5 1308.2 L644.5 1301.8Z M666.6 1298.6 L672.3 1301.8 L672.3 1308.2 L666.6 1311.4 L661.0 1308.2 L661.0 1301.8Z M683.1 1298.6 L688.7 1301.8 L688.7 1308.2 L683.1 1311.4 L677.4 1308.2 L677.4 1301.8Z M699.5 1298.6 L705.2 1301.8 L705.2 1308.2 L699.5 1311.4 L693.9 1308.2 L693.9 1301.8Z M716.0 1298.6 L721.6 1301.8 L721.6 1308.2 L716.0 1311.4 L710.3 1308.2 L710.3 1301.8Z M543.2 1316.3 L548.9 1319.5 L548.9 1325.9 L543.2 1329.1 L537.6 1325.9 L537.6 1319.5Z M559.7 1316.3 L565.4 1319.5 L565.4 1325.9 L559.7 1329.1 L554.1 1325.9 L554.1 1319.5Z M576.1 1316.3 L581.8 1319.5 L581.8 1325.9 L576.1 1329.1 L570.5 1325.9 L570.5 1319.5Z M592.6 1316.3 L598.2 1319.5 L598.2 1325.9 L592.6 1329.1 L587.0 1325.9 L587.0 1319.5Z M658.4 1316.3 L664.0 1319.5 L664.0 1325.9 L658.4 1329.1 L652.8 1325.9 L652.8 1319.5Z M674.9 1316.3 L680.5 1319.5 L680.5 1325.9 L674.9 1329.1 L669.2 1325.9 L669.2 1319.5Z M691.3 1316.3 L696.9 1319.5 L696.9 1325.9 L691.3 1329.1 L685.6 1325.9 L685.6 1319.5Z M707.8 1316.3 L713.4 1319.5 L713.4 1325.9 L707.8 1329.1 L702.1 1325.9 L702.1 1319.5Z M535.0 1330.9 L540.7 1334.1 L540.7 1340.5 L535.0 1343.7 L529.4 1340.5 L529.4 1334.1Z M551.5 1330.9 L557.1 1334.1 L557.1 1340.5 L551.5 1343.7 L545.8 1340.5 L545.8 1334.1Z M567.9 1330.9 L573.6 1334.1 L573.6 1340.5 L567.9 1343.7 L562.3 1340.5 L562.3 1334.1Z M584.4 1330.9 L590.0 1334.1 L590.0 1340.5 L584.4 1343.7 L578.7 1340.5 L578.7 1334.1Z M600.8 1330.9 L606.5 1334.1 L606.5 1340.5 L600.8 1343.7 L595.2 1340.5 L595.2 1334.1Z M617.3 1330.9 L622.9 1334.1 L622.9 1340.5 L617.3 1343.7 L611.6 1340.5 L611.6 1334.1Z M633.7 1330.9 L639.4 1334.1 L639.4 1340.5 L633.7 1343.7 L628.1 1340.5 L628.1 1334.1Z M650.2 1330.9 L655.8 1334.1 L655.8 1340.5 L650.2 1343.7 L644.5 1340.5 L644.5 1334.1Z M666.6 1330.9 L672.3 1334.1 L672.3 1340.5 L666.6 1343.7 L661.0 1340.5 L661.0 1334.1Z M683.1 1330.9 L688.7 1334.1 L688.7 1340.5 L683.1 1343.7 L677.4 1340.5 L677.4 1334.1Z M699.5 1330.9 L705.2 1334.1 L705.2 1340.5 L699.5 1343.7 L693.9 1340.5 L693.9 1334.1Z M716.0 1330.9 L721.6 1334.1 L721.6 1340.5 L716.0 1343.7 L710.3 1340.5 L710.3 1334.1Z M543.2 1346.9 L548.9 1350.1 L548.9 1356.5 L543.2 1359.7 L537.6 1356.5 L537.6 1350.1Z M559.7 1346.9 L565.4 1350.1 L565.4 1356.5 L559.7 1359.7 L554.1 1356.5 L554.1 1350.1Z M576.1 1346.9 L581.8 1350.1 L581.8 1356.5 L576.1 1359.7 L570.5 1356.5 L570.5 1350.1Z M592.6 1346.9 L598.2 1350.1 L598.2 1356.5 L592.6 1359.7 L587.0 1356.5 L587.0 1350.1Z M609.0 1346.9 L614.7 1350.1 L614.7 1356.5 L609.0 1359.7 L603.4 1356.5 L603.4 1350.1Z M625.5 1346.9 L631.1 1350.1 L631.1 1356.5 L625.5 1359.7 L619.9 1356.5 L619.9 1350.1Z M642.0 1346.9 L647.6 1350.1 L647.6 1356.5 L642.0 1359.7 L636.3 1356.5 L636.3 1350.1Z M658.4 1346.9 L664.0 1350.1 L664.0 1356.5 L658.4 1359.7 L652.8 1356.5 L652.8 1350.1Z M674.9 1346.9 L680.5 1350.1 L680.5 1356.5 L674.9 1359.7 L669.2 1356.5 L669.2 1350.1Z M691.3 1346.9 L696.9 1350.1 L696.9 1356.5 L691.3 1359.7 L685.6 1356.5 L685.6 1350.1Z M707.8 1346.9 L713.4 1350.1 L713.4 1356.5 L707.8 1359.7 L702.1 1356.5 L702.1 1350.1Z M535.0 1363.6 L540.7 1366.8 L540.7 1373.2 L535.0 1376.4 L529.4 1373.2 L529.4 1366.8Z M551.5 1363.6 L557.1 1366.8 L557.1 1373.2 L551.5 1376.4 L545.8 1373.2 L545.8 1366.8Z M567.9 1363.6 L573.6 1366.8 L573.6 1373.2 L567.9 1376.4 L562.3 1373.2 L562.3 1366.8Z M584.4 1363.6 L590.0 1366.8 L590.0 1373.2 L584.4 1376.4 L578.7 1373.2 L578.7 1366.8Z M600.8 1363.6 L606.5 1366.8 L606.5 1373.2 L600.8 1376.4 L595.2 1373.2 L595.2 1366.8Z M617.3 1363.6 L622.9 1366.8 L622.9 1373.2 L617.3 1376.4 L611.6 1373.2 L611.6 1366.8Z M633.7 1363.6 L639.4 1366.8 L639.4 1373.2 L633.7 1376.4 L628.1 1373.2 L628.1 1366.8Z M650.2 1363.6 L655.8 1366.8 L655.8 1373.2 L650.2 1376.4 L644.5 1373.2 L644.5 1366.8Z M666.6 1363.6 L672.3 1366.8 L672.3 1373.2 L666.6 1376.4 L661.0 1373.2 L661.0 1366.8Z M683.1 1363.6 L688.7 1366.8 L688.7 1373.2 L683.1 1376.4 L677.4 1373.2 L677.4 1366.8Z M699.5 1363.6 L705.2 1366.8 L705.2 1373.2 L699.5 1376.4 L693.9 1373.2 L693.9 1366.8Z M716.0 1363.6 L721.6 1366.8 L721.6 1373.2 L716.0 1376.4 L710.3 1373.2 L710.3 1366.8Z M543.2 1378.6 L548.9 1381.8 L548.9 1388.2 L543.2 1391.4 L537.6 1388.2 L537.6 1381.8Z M559.7 1378.6 L565.4 1381.8 L565.4 1388.2 L559.7 1391.4 L554.1 1388.2 L554.1 1381.8Z M576.1 1378.6 L581.8 1381.8 L581.8 1388.2 L576.1 1391.4 L570.5 1388.2 L570.5 1381.8Z M592.6 1378.6 L598.2 1381.8 L598.2 1388.2 L592.6 1391.4 L587.0 1388.2 L587.0 1381.8Z M609.0 1378.6 L614.7 1381.8 L614.7 1388.2 L609.0 1391.4 L603.4 1388.2 L603.4 1381.8Z M625.5 1378.6 L631.1 1381.8 L631.1 1388.2 L625.5 1391.4 L619.9 1388.2 L619.9 1381.8Z M642.0 1378.6 L647.6 1381.8 L647.6 1388.2 L642.0 1391.4 L636.3 1388.2 L636.3 1381.8Z M658.4 1378.6 L664.0 1381.8 L664.0 1388.2 L658.4 1391.4 L652.8 1388.2 L652.8 1381.8Z M674.9 1378.6 L680.5 1381.8 L680.5 1388.2 L674.9 1391.4 L669.2 1388.2 L669.2 1381.8Z M691.3 1378.6 L696.9 1381.8 L696.9 1388.2 L691.3 1391.4 L685.6 1388.2 L685.6 1381.8Z M707.8 1378.6 L713.4 1381.8 L713.4 1388.2 L707.8 1391.4 L702.1 1388.2 L702.1 1381.8Z M535.0 1395.3 L540.7 1398.5 L540.7 1404.9 L535.0 1408.1 L529.4 1404.9 L529.4 1398.5Z M551.5 1395.3 L557.1 1398.5 L557.1 1404.9 L551.5 1408.1 L545.8 1404.9 L545.8 1398.5Z M567.9 1395.3 L573.6 1398.5 L573.6 1404.9 L567.9 1408.1 L562.3 1404.9 L562.3 1398.5Z M584.4 1395.3 L590.0 1398.5 L590.0 1404.9 L584.4 1408.1 L578.7 1404.9 L578.7 1398.5Z M600.8 1395.3 L606.5 1398.5 L606.5 1404.9 L600.8 1408.1 L595.2 1404.9 L595.2 1398.5Z M617.3 1395.3 L622.9 1398.5 L622.9 1404.9 L617.3 1408.1 L611.6 1404.9 L611.6 1398.5Z M633.7 1395.3 L639.4 1398.5 L639.4 1404.9 L633.7 1408.1 L628.1 1404.9 L628.1 1398.5Z M650.2 1395.3 L655.8 1398.5 L655.8 1404.9 L650.2 1408.1 L644.5 1404.9 L644.5 1398.5Z M666.6 1395.3 L672.3 1398.5 L672.3 1404.9 L666.6 1408.1 L661.0 1404.9 L661.0 1398.5Z M683.1 1395.3 L688.7 1398.5 L688.7 1404.9 L683.1 1408.1 L677.4 1404.9 L677.4 1398.5Z M699.5 1395.3 L705.2 1398.5 L705.2 1404.9 L699.5 1408.1 L693.9 1404.9 L693.9 1398.5Z M716.0 1395.3 L721.6 1398.5 L721.6 1404.9 L716.0 1408.1 L710.3 1404.9 L710.3 1398.5Z M543.2 1411.9 L548.9 1415.1 L548.9 1421.5 L543.2 1424.7 L537.6 1421.5 L537.6 1415.1Z M559.7 1411.9 L565.4 1415.1 L565.4 1421.5 L559.7 1424.7 L554.1 1421.5 L554.1 1415.1Z M576.1 1411.9 L581.8 1415.1 L581.8 1421.5 L576.1 1424.7 L570.5 1421.5 L570.5 1415.1Z M592.6 1411.9 L598.2 1415.1 L598.2 1421.5 L592.6 1424.7 L587.0 1421.5 L587.0 1415.1Z M609.0 1411.9 L614.7 1415.1 L614.7 1421.5 L609.0 1424.7 L603.4 1421.5 L603.4 1415.1Z M625.5 1411.9 L631.1 1415.1 L631.1 1421.5 L625.5 1424.7 L619.9 1421.5 L619.9 1415.1Z M642.0 1411.9 L647.6 1415.1 L647.6 1421.5 L642.0 1424.7 L636.3 1421.5 L636.3 1415.1Z M658.4 1411.9 L664.0 1415.1 L664.0 1421.5 L658.4 1424.7 L652.8 1421.5 L652.8 1415.1Z M674.9 1411.9 L680.5 1415.1 L680.5 1421.5 L674.9 1424.7 L669.2 1421.5 L669.2 1415.1Z M691.3 1411.9 L696.9 1415.1 L696.9 1421.5 L691.3 1424.7 L685.6 1421.5 L685.6 1415.1Z M707.8 1411.9 L713.4 1415.1 L713.4 1421.5 L707.8 1424.7 L702.1 1421.5 L702.1 1415.1Z" fill="#f4f7fb"/>
<path d="M-10.5 1277.0 L-10.5 1321.0 Q-10.5 1324.0 -7.5 1324.0 L7.5 1324.0 Q10.5 1324.0 10.5 1321.0 L10.5 1277.0 Z" fill="url(#sockgrad)" transform="translate(625.5 0)"/>
<rect x="615.5" y="1318.5" width="20.0" height="4.5" fill="#1c24a6" opacity="0.75"/>
<circle cx="625.5" cy="1291.0" r="1.7" fill="#f1f4fb" stroke="#1a2190" stroke-width="1.2"/>
<g transform="translate(856.5 1306.0) rotate(-0.490)">
<rect x="-7.8" y="-495.0" width="15.5" height="495.0" fill="url(#polegrad)"/>
<line x1="-7.8" y1="-284.0" x2="7.8" y2="-284.0" stroke="#9aa0aa" stroke-width="1"/>
<circle cx="0" cy="-273.0" r="1.6" fill="#eef0f4" stroke="#8a8f99" stroke-width="0.8"/>
<path d="M-9.8 -489.0 L-8.6 -579.0 Q-8.6 -585.0 -3.8 -585.0 L3.8 -585.0 Q8.6 -585.0 8.6 -579.0 L9.8 -489.0 Z" fill="url(#gripgrad)"/>
<path d="M2 -581.4 C7.4 -581.4 7.8 -575.0 4.8 -569.0 Q3 -565.0 2 -563.5 Q0.4 -565.0 -2.2 -570.0 C-4.8 -576.0 -3.8 -581.4 2 -581.4 Z" fill="#f1f5fd"/>
</g>
<path d="M768.0 1302.0 L945.0 1302.0 Q942.4 1374.3 944.1 1432.4 L944.1 1432.4 L943.9 1456.9 L943.1 1463.4 L940.5 1456.9 L940.3 1436.7 C940.3 1431.1 930.4 1431.1 930.4 1436.7 L930.4 1436.7 L930.1 1456.9 L927.5 1463.4 L924.9 1456.9 L924.7 1436.7 C924.7 1431.1 916.2 1431.1 916.2 1436.7 L916.2 1436.7 L915.9 1456.9 L913.3 1463.4 L910.7 1456.9 L910.5 1436.7 C910.5 1431.1 902.0 1431.1 902.0 1436.7 L902.0 1436.7 L901.7 1456.9 L899.1 1463.4 L896.5 1456.9 L896.3 1436.7 C896.3 1431.1 887.8 1431.1 887.8 1436.7 L887.8 1436.7 L887.5 1456.9 L884.9 1463.4 L882.3 1456.9 L882.1 1436.7 C882.1 1431.1 873.6 1431.1 873.6 1436.7 L873.6 1436.7 L873.3 1456.9 L870.7 1463.4 L868.1 1456.9 L867.9 1436.7 C867.9 1431.1 859.3 1431.1 859.3 1436.7 L859.3 1436.7 L859.1 1456.9 L856.5 1463.4 L853.9 1456.9 L853.7 1436.7 C853.7 1431.1 845.1 1431.1 845.1 1436.7 L845.1 1436.7 L844.9 1456.9 L842.3 1463.4 L839.7 1456.9 L839.4 1436.7 C839.4 1431.1 830.9 1431.1 830.9 1436.7 L830.9 1436.7 L830.7 1456.9 L828.1 1463.4 L825.5 1456.9 L825.2 1436.7 C825.2 1431.1 816.7 1431.1 816.7 1436.7 L816.7 1436.7 L816.5 1456.9 L813.9 1463.4 L811.3 1456.9 L811.0 1436.7 C811.0 1431.1 802.5 1431.1 802.5 1436.7 L802.5 1436.7 L802.3 1456.9 L799.7 1463.4 L797.1 1456.9 L796.8 1436.7 C796.8 1431.1 788.3 1431.1 788.3 1436.7 L788.3 1436.7 L788.1 1456.9 L785.5 1463.4 L782.9 1456.9 L782.6 1436.7 C782.6 1431.1 772.7 1431.1 772.7 1436.7 L772.7 1436.7 L772.5 1456.9 L769.9 1463.4 L769.1 1456.9 L768.9 1432.4 Q770.6 1374.3 768.0 1302.0 Z" fill="#2a35c2"/>
<rect x="769.0" y="1302.5" width="175.0" height="2.8" fill="#3a48cf" opacity="0.6"/>
<path d="M780.6 1309.3 L790.4 1309.3 L790.4 1313.7 L785.5 1317.0 L780.6 1313.7Z M794.8 1309.3 L804.6 1309.3 L804.6 1313.7 L799.7 1317.0 L794.8 1313.7Z M809.0 1309.3 L818.8 1309.3 L818.8 1313.7 L813.9 1317.0 L809.0 1313.7Z M823.2 1309.3 L833.0 1309.3 L833.0 1313.7 L828.1 1317.0 L823.2 1313.7Z M880.0 1309.3 L889.8 1309.3 L889.8 1313.7 L884.9 1317.0 L880.0 1313.7Z M894.2 1309.3 L904.0 1309.3 L904.0 1313.7 L899.1 1317.0 L894.2 1313.7Z M908.4 1309.3 L918.2 1309.3 L918.2 1313.7 L913.3 1317.0 L908.4 1313.7Z M922.6 1309.3 L932.4 1309.3 L932.4 1313.7 L927.5 1317.0 L922.6 1313.7Z M778.4 1320.6 L783.3 1323.4 L783.3 1328.9 L778.4 1331.7 L773.5 1328.9 L773.5 1323.4Z M792.6 1320.6 L797.5 1323.4 L797.5 1328.9 L792.6 1331.7 L787.7 1328.9 L787.7 1323.4Z M806.8 1320.6 L811.7 1323.4 L811.7 1328.9 L806.8 1331.7 L801.9 1328.9 L801.9 1323.4Z M821.0 1320.6 L825.9 1323.4 L825.9 1328.9 L821.0 1331.7 L816.1 1328.9 L816.1 1323.4Z M835.2 1320.6 L840.1 1323.4 L840.1 1328.9 L835.2 1331.7 L830.3 1328.9 L830.3 1323.4Z M877.8 1320.6 L882.7 1323.4 L882.7 1328.9 L877.8 1331.7 L872.9 1328.9 L872.9 1323.4Z M892.0 1320.6 L896.9 1323.4 L896.9 1328.9 L892.0 1331.7 L887.1 1328.9 L887.1 1323.4Z M906.2 1320.6 L911.1 1323.4 L911.1 1328.9 L906.2 1331.7 L901.3 1328.9 L901.3 1323.4Z M920.4 1320.6 L925.3 1323.4 L925.3 1328.9 L920.4 1331.7 L915.5 1328.9 L915.5 1323.4Z M934.6 1320.6 L939.5 1323.4 L939.5 1328.9 L934.6 1331.7 L929.7 1328.9 L929.7 1323.4Z M785.5 1335.9 L790.4 1338.7 L790.4 1344.2 L785.5 1347.0 L780.6 1344.2 L780.6 1338.7Z M799.7 1335.9 L804.6 1338.7 L804.6 1344.2 L799.7 1347.0 L794.8 1344.2 L794.8 1338.7Z M813.9 1335.9 L818.8 1338.7 L818.8 1344.2 L813.9 1347.0 L809.0 1344.2 L809.0 1338.7Z M828.1 1335.9 L833.0 1338.7 L833.0 1344.2 L828.1 1347.0 L823.2 1344.2 L823.2 1338.7Z M884.9 1335.9 L889.8 1338.7 L889.8 1344.2 L884.9 1347.0 L880.0 1344.2 L880.0 1338.7Z M899.1 1335.9 L904.0 1338.7 L904.0 1344.2 L899.1 1347.0 L894.2 1344.2 L894.2 1338.7Z M913.3 1335.9 L918.2 1338.7 L918.2 1344.2 L913.3 1347.0 L908.4 1344.2 L908.4 1338.7Z M927.5 1335.9 L932.4 1338.7 L932.4 1344.2 L927.5 1347.0 L922.6 1344.2 L922.6 1338.7Z M778.4 1348.5 L783.3 1351.3 L783.3 1356.8 L778.4 1359.6 L773.5 1356.8 L773.5 1351.3Z M792.6 1348.5 L797.5 1351.3 L797.5 1356.8 L792.6 1359.6 L787.7 1356.8 L787.7 1351.3Z M806.8 1348.5 L811.7 1351.3 L811.7 1356.8 L806.8 1359.6 L801.9 1356.8 L801.9 1351.3Z M821.0 1348.5 L825.9 1351.3 L825.9 1356.8 L821.0 1359.6 L816.1 1356.8 L816.1 1351.3Z M835.2 1348.5 L840.1 1351.3 L840.1 1356.8 L835.2 1359.6 L830.3 1356.8 L830.3 1351.3Z M849.4 1348.5 L854.3 1351.3 L854.3 1356.8 L849.4 1359.6 L844.5 1356.8 L844.5 1351.3Z M863.6 1348.5 L868.5 1351.3 L868.5 1356.8 L863.6 1359.6 L858.7 1356.8 L858.7 1351.3Z M877.8 1348.5 L882.7 1351.3 L882.7 1356.8 L877.8 1359.6 L872.9 1356.8 L872.9 1351.3Z M892.0 1348.5 L896.9 1351.3 L896.9 1356.8 L892.0 1359.6 L887.1 1356.8 L887.1 1351.3Z M906.2 1348.5 L911.1 1351.3 L911.1 1356.8 L906.2 1359.6 L901.3 1356.8 L901.3 1351.3Z M920.4 1348.5 L925.3 1351.3 L925.3 1356.8 L920.4 1359.6 L915.5 1356.8 L915.5 1351.3Z M934.6 1348.5 L939.5 1351.3 L939.5 1356.8 L934.6 1359.6 L929.7 1356.8 L929.7 1351.3Z M785.5 1362.4 L790.4 1365.1 L790.4 1370.6 L785.5 1373.4 L780.6 1370.6 L780.6 1365.1Z M799.7 1362.4 L804.6 1365.1 L804.6 1370.6 L799.7 1373.4 L794.8 1370.6 L794.8 1365.1Z M813.9 1362.4 L818.8 1365.1 L818.8 1370.6 L813.9 1373.4 L809.0 1370.6 L809.0 1365.1Z M828.1 1362.4 L833.0 1365.1 L833.0 1370.6 L828.1 1373.4 L823.2 1370.6 L823.2 1365.1Z M842.3 1362.4 L847.2 1365.1 L847.2 1370.6 L842.3 1373.4 L837.4 1370.6 L837.4 1365.1Z M856.5 1362.4 L861.4 1365.1 L861.4 1370.6 L856.5 1373.4 L851.6 1370.6 L851.6 1365.1Z M870.7 1362.4 L875.6 1365.1 L875.6 1370.6 L870.7 1373.4 L865.8 1370.6 L865.8 1365.1Z M884.9 1362.4 L889.8 1365.1 L889.8 1370.6 L884.9 1373.4 L880.0 1370.6 L880.0 1365.1Z M899.1 1362.4 L904.0 1365.1 L904.0 1370.6 L899.1 1373.4 L894.2 1370.6 L894.2 1365.1Z M913.3 1362.4 L918.2 1365.1 L918.2 1370.6 L913.3 1373.4 L908.4 1370.6 L908.4 1365.1Z M927.5 1362.4 L932.4 1365.1 L932.4 1370.6 L927.5 1373.4 L922.6 1370.6 L922.6 1365.1Z M778.4 1376.8 L783.3 1379.5 L783.3 1385.1 L778.4 1387.8 L773.5 1385.1 L773.5 1379.5Z M792.6 1376.8 L797.5 1379.5 L797.5 1385.1 L792.6 1387.8 L787.7 1385.1 L787.7 1379.5Z M806.8 1376.8 L811.7 1379.5 L811.7 1385.1 L806.8 1387.8 L801.9 1385.1 L801.9 1379.5Z M821.0 1376.8 L825.9 1379.5 L825.9 1385.1 L821.0 1387.8 L816.1 1385.1 L816.1 1379.5Z M835.2 1376.8 L840.1 1379.5 L840.1 1385.1 L835.2 1387.8 L830.3 1385.1 L830.3 1379.5Z M849.4 1376.8 L854.3 1379.5 L854.3 1385.1 L849.4 1387.8 L844.5 1385.1 L844.5 1379.5Z M863.6 1376.8 L868.5 1379.5 L868.5 1385.1 L863.6 1387.8 L858.7 1385.1 L858.7 1379.5Z M877.8 1376.8 L882.7 1379.5 L882.7 1385.1 L877.8 1387.8 L872.9 1385.1 L872.9 1379.5Z M892.0 1376.8 L896.9 1379.5 L896.9 1385.1 L892.0 1387.8 L887.1 1385.1 L887.1 1379.5Z M906.2 1376.8 L911.1 1379.5 L911.1 1385.1 L906.2 1387.8 L901.3 1385.1 L901.3 1379.5Z M920.4 1376.8 L925.3 1379.5 L925.3 1385.1 L920.4 1387.8 L915.5 1385.1 L915.5 1379.5Z M934.6 1376.8 L939.5 1379.5 L939.5 1385.1 L934.6 1387.8 L929.7 1385.1 L929.7 1379.5Z M785.5 1389.7 L790.4 1392.5 L790.4 1398.0 L785.5 1400.8 L780.6 1398.0 L780.6 1392.5Z M799.7 1389.7 L804.6 1392.5 L804.6 1398.0 L799.7 1400.8 L794.8 1398.0 L794.8 1392.5Z M813.9 1389.7 L818.8 1392.5 L818.8 1398.0 L813.9 1400.8 L809.0 1398.0 L809.0 1392.5Z M828.1 1389.7 L833.0 1392.5 L833.0 1398.0 L828.1 1400.8 L823.2 1398.0 L823.2 1392.5Z M842.3 1389.7 L847.2 1392.5 L847.2 1398.0 L842.3 1400.8 L837.4 1398.0 L837.4 1392.5Z M856.5 1389.7 L861.4 1392.5 L861.4 1398.0 L856.5 1400.8 L851.6 1398.0 L851.6 1392.5Z M870.7 1389.7 L875.6 1392.5 L875.6 1398.0 L870.7 1400.8 L865.8 1398.0 L865.8 1392.5Z M884.9 1389.7 L889.8 1392.5 L889.8 1398.0 L884.9 1400.8 L880.0 1398.0 L880.0 1392.5Z M899.1 1389.7 L904.0 1392.5 L904.0 1398.0 L899.1 1400.8 L894.2 1398.0 L894.2 1392.5Z M913.3 1389.7 L918.2 1392.5 L918.2 1398.0 L913.3 1400.8 L908.4 1398.0 L908.4 1392.5Z M927.5 1389.7 L932.4 1392.5 L932.4 1398.0 L927.5 1400.8 L922.6 1398.0 L922.6 1392.5Z M778.4 1404.1 L783.3 1406.9 L783.3 1412.4 L778.4 1415.2 L773.5 1412.4 L773.5 1406.9Z M792.6 1404.1 L797.5 1406.9 L797.5 1412.4 L792.6 1415.2 L787.7 1412.4 L787.7 1406.9Z M806.8 1404.1 L811.7 1406.9 L811.7 1412.4 L806.8 1415.2 L801.9 1412.4 L801.9 1406.9Z M821.0 1404.1 L825.9 1406.9 L825.9 1412.4 L821.0 1415.2 L816.1 1412.4 L816.1 1406.9Z M835.2 1404.1 L840.1 1406.9 L840.1 1412.4 L835.2 1415.2 L830.3 1412.4 L830.3 1406.9Z M849.4 1404.1 L854.3 1406.9 L854.3 1412.4 L849.4 1415.2 L844.5 1412.4 L844.5 1406.9Z M863.6 1404.1 L868.5 1406.9 L868.5 1412.4 L863.6 1415.2 L858.7 1412.4 L858.7 1406.9Z M877.8 1404.1 L882.7 1406.9 L882.7 1412.4 L877.8 1415.2 L872.9 1412.4 L872.9 1406.9Z M892.0 1404.1 L896.9 1406.9 L896.9 1412.4 L892.0 1415.2 L887.1 1412.4 L887.1 1406.9Z M906.2 1404.1 L911.1 1406.9 L911.1 1412.4 L906.2 1415.2 L901.3 1412.4 L901.3 1406.9Z M920.4 1404.1 L925.3 1406.9 L925.3 1412.4 L920.4 1415.2 L915.5 1412.4 L915.5 1406.9Z M934.6 1404.1 L939.5 1406.9 L939.5 1412.4 L934.6 1415.2 L929.7 1412.4 L929.7 1406.9Z M785.5 1418.5 L790.4 1421.2 L790.4 1426.8 L785.5 1429.5 L780.6 1426.8 L780.6 1421.2Z M799.7 1418.5 L804.6 1421.2 L804.6 1426.8 L799.7 1429.5 L794.8 1426.8 L794.8 1421.2Z M813.9 1418.5 L818.8 1421.2 L818.8 1426.8 L813.9 1429.5 L809.0 1426.8 L809.0 1421.2Z M828.1 1418.5 L833.0 1421.2 L833.0 1426.8 L828.1 1429.5 L823.2 1426.8 L823.2 1421.2Z M842.3 1418.5 L847.2 1421.2 L847.2 1426.8 L842.3 1429.5 L837.4 1426.8 L837.4 1421.2Z M856.5 1418.5 L861.4 1421.2 L861.4 1426.8 L856.5 1429.5 L851.6 1426.8 L851.6 1421.2Z M870.7 1418.5 L875.6 1421.2 L875.6 1426.8 L870.7 1429.5 L865.8 1426.8 L865.8 1421.2Z M884.9 1418.5 L889.8 1421.2 L889.8 1426.8 L884.9 1429.5 L880.0 1426.8 L880.0 1421.2Z M899.1 1418.5 L904.0 1421.2 L904.0 1426.8 L899.1 1429.5 L894.2 1426.8 L894.2 1421.2Z M913.3 1418.5 L918.2 1421.2 L918.2 1426.8 L913.3 1429.5 L908.4 1426.8 L908.4 1421.2Z M927.5 1418.5 L932.4 1421.2 L932.4 1426.8 L927.5 1429.5 L922.6 1426.8 L922.6 1421.2Z" fill="#f4f7fb"/>
<path d="M-9.1 1302.0 L-9.1 1339.6 Q-9.1 1342.6 -6.1 1342.6 L6.1 1342.6 Q9.1 1342.6 9.1 1339.6 L9.1 1302.0 Z" fill="url(#sockgrad)" transform="translate(856.5 0)"/>
<rect x="847.9" y="1337.8" width="17.3" height="3.9" fill="#1c24a6" opacity="0.75"/>
<circle cx="856.5" cy="1314.1" r="1.7" fill="#f1f4fb" stroke="#1a2190" stroke-width="1.2"/>
<g transform="translate(1075.0 1300.5) rotate(0.223)">
<rect x="-7.4" y="-810.5" width="14.8" height="810.5" fill="url(#polegrad)"/>
<line x1="-7.4" y1="-587.0" x2="7.4" y2="-587.0" stroke="#9aa0aa" stroke-width="1"/>
<circle cx="0" cy="-576.0" r="1.6" fill="#eef0f4" stroke="#8a8f99" stroke-width="0.8"/>
<line x1="-7.4" y1="-291.0" x2="7.4" y2="-291.0" stroke="#9aa0aa" stroke-width="1"/>
<circle cx="0" cy="-280.0" r="1.6" fill="#eef0f4" stroke="#8a8f99" stroke-width="0.8"/>
<path d="M-9.8 -804.5 L-8.6 -894.5 Q-8.6 -900.5 -3.8 -900.5 L3.8 -900.5 Q8.6 -900.5 8.6 -894.5 L9.8 -804.5 Z" fill="url(#gripgrad)"/>
<path d="M2 -896.9 C7.4 -896.9 7.8 -890.5 4.8 -884.5 Q3 -880.5 2 -879.0 Q0.4 -880.5 -2.2 -885.5 C-4.8 -891.5 -3.8 -896.9 2 -896.9 Z" fill="#f1f5fd"/>
</g>
<path d="M984.0 1296.5 L1166.0 1296.5 Q1163.3 1370.8 1165.1 1430.6 L1165.1 1430.6 L1164.8 1455.8 L1164.0 1462.4 L1161.4 1455.8 L1161.1 1435.0 C1161.1 1429.2 1151.0 1429.2 1151.0 1435.0 L1151.0 1435.0 L1150.7 1455.8 L1148.0 1462.4 L1145.4 1455.8 L1145.1 1435.0 C1145.1 1429.2 1136.3 1429.2 1136.3 1435.0 L1136.3 1435.0 L1136.1 1455.8 L1133.4 1462.4 L1130.8 1455.8 L1130.5 1435.0 C1130.5 1429.2 1121.7 1429.2 1121.7 1435.0 L1121.7 1435.0 L1121.5 1455.8 L1118.8 1462.4 L1116.1 1455.8 L1115.9 1435.0 C1115.9 1429.2 1107.1 1429.2 1107.1 1435.0 L1107.1 1435.0 L1106.9 1455.8 L1104.2 1462.4 L1101.5 1455.8 L1101.3 1435.0 C1101.3 1429.2 1092.5 1429.2 1092.5 1435.0 L1092.5 1435.0 L1092.3 1455.8 L1089.6 1462.4 L1086.9 1455.8 L1086.7 1435.0 C1086.7 1429.2 1077.9 1429.2 1077.9 1435.0 L1077.9 1435.0 L1077.7 1455.8 L1075.0 1462.4 L1072.3 1455.8 L1072.1 1435.0 C1072.1 1429.2 1063.3 1429.2 1063.3 1435.0 L1063.3 1435.0 L1063.1 1455.8 L1060.4 1462.4 L1057.7 1455.8 L1057.5 1435.0 C1057.5 1429.2 1048.7 1429.2 1048.7 1435.0 L1048.7 1435.0 L1048.5 1455.8 L1045.8 1462.4 L1043.1 1455.8 L1042.9 1435.0 C1042.9 1429.2 1034.1 1429.2 1034.1 1435.0 L1034.1 1435.0 L1033.9 1455.8 L1031.2 1462.4 L1028.5 1455.8 L1028.3 1435.0 C1028.3 1429.2 1019.5 1429.2 1019.5 1435.0 L1019.5 1435.0 L1019.2 1455.8 L1016.6 1462.4 L1013.9 1455.8 L1013.7 1435.0 C1013.7 1429.2 1004.9 1429.2 1004.9 1435.0 L1004.9 1435.0 L1004.6 1455.8 L1002.0 1462.4 L999.3 1455.8 L999.0 1435.0 C999.0 1429.2 988.9 1429.2 988.9 1435.0 L988.9 1435.0 L988.6 1455.8 L986.0 1462.4 L985.2 1455.8 L984.9 1430.6 Q986.7 1370.8 984.0 1296.5 Z" fill="#2a35c2"/>
<rect x="985.0" y="1297.0" width="180.0" height="2.8" fill="#3a48cf" opacity="0.6"/>
<path d="M997.0 1304.0 L1007.0 1304.0 L1007.0 1308.5 L1002.0 1311.9 L997.0 1308.5Z M1011.6 1304.0 L1021.6 1304.0 L1021.6 1308.5 L1016.6 1311.9 L1011.6 1308.5Z M1026.2 1304.0 L1036.2 1304.0 L1036.2 1308.5 L1031.2 1311.9 L1026.2 1308.5Z M1040.8 1304.0 L1050.8 1304.0 L1050.8 1308.5 L1045.8 1311.9 L1040.8 1308.5Z M1099.2 1304.0 L1109.2 1304.0 L1109.2 1308.5 L1104.2 1311.9 L1099.2 1308.5Z M1113.8 1304.0 L1123.8 1304.0 L1123.8 1308.5 L1118.8 1311.9 L1113.8 1308.5Z M1128.4 1304.0 L1138.4 1304.0 L1138.4 1308.5 L1133.4 1311.9 L1128.4 1308.5Z M1143.0 1304.0 L1153.0 1304.0 L1153.0 1308.5 L1148.0 1311.9 L1143.0 1308.5Z M994.7 1315.7 L999.7 1318.5 L999.7 1324.2 L994.7 1327.0 L989.7 1324.2 L989.7 1318.5Z M1009.3 1315.7 L1014.3 1318.5 L1014.3 1324.2 L1009.3 1327.0 L1004.3 1324.2 L1004.3 1318.5Z M1023.9 1315.7 L1028.9 1318.5 L1028.9 1324.2 L1023.9 1327.0 L1018.9 1324.2 L1018.9 1318.5Z M1038.5 1315.7 L1043.5 1318.5 L1043.5 1324.2 L1038.5 1327.0 L1033.5 1324.2 L1033.5 1318.5Z M1053.1 1315.7 L1058.1 1318.5 L1058.1 1324.2 L1053.1 1327.0 L1048.1 1324.2 L1048.1 1318.5Z M1096.9 1315.7 L1101.9 1318.5 L1101.9 1324.2 L1096.9 1327.0 L1091.9 1324.2 L1091.9 1318.5Z M1111.5 1315.7 L1116.5 1318.5 L1116.5 1324.2 L1111.5 1327.0 L1106.5 1324.2 L1106.5 1318.5Z M1126.1 1315.7 L1131.1 1318.5 L1131.1 1324.2 L1126.1 1327.0 L1121.1 1324.2 L1121.1 1318.5Z M1140.7 1315.7 L1145.7 1318.5 L1145.7 1324.2 L1140.7 1327.0 L1135.7 1324.2 L1135.7 1318.5Z M1155.3 1315.7 L1160.3 1318.5 L1160.3 1324.2 L1155.3 1327.0 L1150.3 1324.2 L1150.3 1318.5Z M1002.0 1331.4 L1007.0 1334.2 L1007.0 1339.9 L1002.0 1342.8 L997.0 1339.9 L997.0 1334.2Z M1016.6 1331.4 L1021.6 1334.2 L1021.6 1339.9 L1016.6 1342.8 L1011.6 1339.9 L1011.6 1334.2Z M1031.2 1331.4 L1036.2 1334.2 L1036.2 1339.9 L1031.2 1342.8 L1026.2 1339.9 L1026.2 1334.2Z M1045.8 1331.4 L1050.8 1334.2 L1050.8 1339.9 L1045.8 1342.8 L1040.8 1339.9 L1040.8 1334.2Z M1104.2 1331.4 L1109.2 1334.2 L1109.2 1339.9 L1104.2 1342.8 L1099.2 1339.9 L1099.2 1334.2Z M1118.8 1331.4 L1123.8 1334.2 L1123.8 1339.9 L1118.8 1342.8 L1113.8 1339.9 L1113.8 1334.2Z M1133.4 1331.4 L1138.4 1334.2 L1138.4 1339.9 L1133.4 1342.8 L1128.4 1339.9 L1128.4 1334.2Z M1148.0 1331.4 L1153.0 1334.2 L1153.0 1339.9 L1148.0 1342.8 L1143.0 1339.9 L1143.0 1334.2Z M994.7 1344.4 L999.7 1347.2 L999.7 1352.9 L994.7 1355.7 L989.7 1352.9 L989.7 1347.2Z M1009.3 1344.4 L1014.3 1347.2 L1014.3 1352.9 L1009.3 1355.7 L1004.3 1352.9 L1004.3 1347.2Z M1023.9 1344.4 L1028.9 1347.2 L1028.9 1352.9 L1023.9 1355.7 L1018.9 1352.9 L1018.9 1347.2Z M1038.5 1344.4 L1043.5 1347.2 L1043.5 1352.9 L1038.5 1355.7 L1033.5 1352.9 L1033.5 1347.2Z M1053.1 1344.4 L1058.1 1347.2 L1058.1 1352.9 L1053.1 1355.7 L1048.1 1352.9 L1048.1 1347.2Z M1067.7 1344.4 L1072.7 1347.2 L1072.7 1352.9 L1067.7 1355.7 L1062.7 1352.9 L1062.7 1347.2Z M1082.3 1344.4 L1087.3 1347.2 L1087.3 1352.9 L1082.3 1355.7 L1077.3 1352.9 L1077.3 1347.2Z M1096.9 1344.4 L1101.9 1347.2 L1101.9 1352.9 L1096.9 1355.7 L1091.9 1352.9 L1091.9 1347.2Z M1111.5 1344.4 L1116.5 1347.2 L1116.5 1352.9 L1111.5 1355.7 L1106.5 1352.9 L1106.5 1347.2Z M1126.1 1344.4 L1131.1 1347.2 L1131.1 1352.9 L1126.1 1355.7 L1121.1 1352.9 L1121.1 1347.2Z M1140.7 1344.4 L1145.7 1347.2 L1145.7 1352.9 L1140.7 1355.7 L1135.7 1352.9 L1135.7 1347.2Z M1155.3 1344.4 L1160.3 1347.2 L1160.3 1352.9 L1155.3 1355.7 L1150.3 1352.9 L1150.3 1347.2Z M1002.0 1358.6 L1007.0 1361.4 L1007.0 1367.1 L1002.0 1369.9 L997.0 1367.1 L997.0 1361.4Z M1016.6 1358.6 L1021.6 1361.4 L1021.6 1367.1 L1016.6 1369.9 L1011.6 1367.1 L1011.6 1361.4Z M1031.2 1358.6 L1036.2 1361.4 L1036.2 1367.1 L1031.2 1369.9 L1026.2 1367.1 L1026.2 1361.4Z M1045.8 1358.6 L1050.8 1361.4 L1050.8 1367.1 L1045.8 1369.9 L1040.8 1367.1 L1040.8 1361.4Z M1060.4 1358.6 L1065.4 1361.4 L1065.4 1367.1 L1060.4 1369.9 L1055.4 1367.1 L1055.4 1361.4Z M1075.0 1358.6 L1080.0 1361.4 L1080.0 1367.1 L1075.0 1369.9 L1070.0 1367.1 L1070.0 1361.4Z M1089.6 1358.6 L1094.6 1361.4 L1094.6 1367.1 L1089.6 1369.9 L1084.6 1367.1 L1084.6 1361.4Z M1104.2 1358.6 L1109.2 1361.4 L1109.2 1367.1 L1104.2 1369.9 L1099.2 1367.1 L1099.2 1361.4Z M1118.8 1358.6 L1123.8 1361.4 L1123.8 1367.1 L1118.8 1369.9 L1113.8 1367.1 L1113.8 1361.4Z M1133.4 1358.6 L1138.4 1361.4 L1138.4 1367.1 L1133.4 1369.9 L1128.4 1367.1 L1128.4 1361.4Z M1148.0 1358.6 L1153.0 1361.4 L1153.0 1367.1 L1148.0 1369.9 L1143.0 1367.1 L1143.0 1361.4Z M994.7 1373.4 L999.7 1376.2 L999.7 1381.9 L994.7 1384.7 L989.7 1381.9 L989.7 1376.2Z M1009.3 1373.4 L1014.3 1376.2 L1014.3 1381.9 L1009.3 1384.7 L1004.3 1381.9 L1004.3 1376.2Z M1023.9 1373.4 L1028.9 1376.2 L1028.9 1381.9 L1023.9 1384.7 L1018.9 1381.9 L1018.9 1376.2Z M1038.5 1373.4 L1043.5 1376.2 L1043.5 1381.9 L1038.5 1384.7 L1033.5 1381.9 L1033.5 1376.2Z M1053.1 1373.4 L1058.1 1376.2 L1058.1 1381.9 L1053.1 1384.7 L1048.1 1381.9 L1048.1 1376.2Z M1067.7 1373.4 L1072.7 1376.2 L1072.7 1381.9 L1067.7 1384.7 L1062.7 1381.9 L1062.7 1376.2Z M1082.3 1373.4 L1087.3 1376.2 L1087.3 1381.9 L1082.3 1384.7 L1077.3 1381.9 L1077.3 1376.2Z M1096.9 1373.4 L1101.9 1376.2 L1101.9 1381.9 L1096.9 1384.7 L1091.9 1381.9 L1091.9 1376.2Z M1111.5 1373.4 L1116.5 1376.2 L1116.5 1381.9 L1111.5 1384.7 L1106.5 1381.9 L1106.5 1376.2Z M1126.1 1373.4 L1131.1 1376.2 L1131.1 1381.9 L1126.1 1384.7 L1121.1 1381.9 L1121.1 1376.2Z M1140.7 1373.4 L1145.7 1376.2 L1145.7 1381.9 L1140.7 1384.7 L1135.7 1381.9 L1135.7 1376.2Z M1155.3 1373.4 L1160.3 1376.2 L1160.3 1381.9 L1155.3 1384.7 L1150.3 1381.9 L1150.3 1376.2Z M1002.0 1386.7 L1007.0 1389.5 L1007.0 1395.2 L1002.0 1398.1 L997.0 1395.2 L997.0 1389.5Z M1016.6 1386.7 L1021.6 1389.5 L1021.6 1395.2 L1016.6 1398.1 L1011.6 1395.2 L1011.6 1389.5Z M1031.2 1386.7 L1036.2 1389.5 L1036.2 1395.2 L1031.2 1398.1 L1026.2 1395.2 L1026.2 1389.5Z M1045.8 1386.7 L1050.8 1389.5 L1050.8 1395.2 L1045.8 1398.1 L1040.8 1395.2 L1040.8 1389.5Z M1060.4 1386.7 L1065.4 1389.5 L1065.4 1395.2 L1060.4 1398.1 L1055.4 1395.2 L1055.4 1389.5Z M1075.0 1386.7 L1080.0 1389.5 L1080.0 1395.2 L1075.0 1398.1 L1070.0 1395.2 L1070.0 1389.5Z M1089.6 1386.7 L1094.6 1389.5 L1094.6 1395.2 L1089.6 1398.1 L1084.6 1395.2 L1084.6 1389.5Z M1104.2 1386.7 L1109.2 1389.5 L1109.2 1395.2 L1104.2 1398.1 L1099.2 1395.2 L1099.2 1389.5Z M1118.8 1386.7 L1123.8 1389.5 L1123.8 1395.2 L1118.8 1398.1 L1113.8 1395.2 L1113.8 1389.5Z M1133.4 1386.7 L1138.4 1389.5 L1138.4 1395.2 L1133.4 1398.1 L1128.4 1395.2 L1128.4 1389.5Z M1148.0 1386.7 L1153.0 1389.5 L1153.0 1395.2 L1148.0 1398.1 L1143.0 1395.2 L1143.0 1389.5Z M994.7 1401.5 L999.7 1404.4 L999.7 1410.1 L994.7 1412.9 L989.7 1410.1 L989.7 1404.4Z M1009.3 1401.5 L1014.3 1404.4 L1014.3 1410.1 L1009.3 1412.9 L1004.3 1410.1 L1004.3 1404.4Z M1023.9 1401.5 L1028.9 1404.4 L1028.9 1410.1 L1023.9 1412.9 L1018.9 1410.1 L1018.9 1404.4Z M1038.5 1401.5 L1043.5 1404.4 L1043.5 1410.1 L1038.5 1412.9 L1033.5 1410.1 L1033.5 1404.4Z M1053.1 1401.5 L1058.1 1404.4 L1058.1 1410.1 L1053.1 1412.9 L1048.1 1410.1 L1048.1 1404.4Z M1067.7 1401.5 L1072.7 1404.4 L1072.7 1410.1 L1067.7 1412.9 L1062.7 1410.1 L1062.7 1404.4Z M1082.3 1401.5 L1087.3 1404.4 L1087.3 1410.1 L1082.3 1412.9 L1077.3 1410.1 L1077.3 1404.4Z M1096.9 1401.5 L1101.9 1404.4 L1101.9 1410.1 L1096.9 1412.9 L1091.9 1410.1 L1091.9 1404.4Z M1111.5 1401.5 L1116.5 1404.4 L1116.5 1410.1 L1111.5 1412.9 L1106.5 1410.1 L1106.5 1404.4Z M1126.1 1401.5 L1131.1 1404.4 L1131.1 1410.1 L1126.1 1412.9 L1121.1 1410.1 L1121.1 1404.4Z M1140.7 1401.5 L1145.7 1404.4 L1145.7 1410.1 L1140.7 1412.9 L1135.7 1410.1 L1135.7 1404.4Z M1155.3 1401.5 L1160.3 1404.4 L1160.3 1410.1 L1155.3 1412.9 L1150.3 1410.1 L1150.3 1404.4Z M1002.0 1416.3 L1007.0 1419.1 L1007.0 1424.8 L1002.0 1427.6 L997.0 1424.8 L997.0 1419.1Z M1016.6 1416.3 L1021.6 1419.1 L1021.6 1424.8 L1016.6 1427.6 L1011.6 1424.8 L1011.6 1419.1Z M1031.2 1416.3 L1036.2 1419.1 L1036.2 1424.8 L1031.2 1427.6 L1026.2 1424.8 L1026.2 1419.1Z M1045.8 1416.3 L1050.8 1419.1 L1050.8 1424.8 L1045.8 1427.6 L1040.8 1424.8 L1040.8 1419.1Z M1060.4 1416.3 L1065.4 1419.1 L1065.4 1424.8 L1060.4 1427.6 L1055.4 1424.8 L1055.4 1419.1Z M1075.0 1416.3 L1080.0 1419.1 L1080.0 1424.8 L1075.0 1427.6 L1070.0 1424.8 L1070.0 1419.1Z M1089.6 1416.3 L1094.6 1419.1 L1094.6 1424.8 L1089.6 1427.6 L1084.6 1424.8 L1084.6 1419.1Z M1104.2 1416.3 L1109.2 1419.1 L1109.2 1424.8 L1104.2 1427.6 L1099.2 1424.8 L1099.2 1419.1Z M1118.8 1416.3 L1123.8 1419.1 L1123.8 1424.8 L1118.8 1427.6 L1113.8 1424.8 L1113.8 1419.1Z M1133.4 1416.3 L1138.4 1419.1 L1138.4 1424.8 L1133.4 1427.6 L1128.4 1424.8 L1128.4 1419.1Z M1148.0 1416.3 L1153.0 1419.1 L1153.0 1424.8 L1148.0 1427.6 L1143.0 1424.8 L1143.0 1419.1Z" fill="#f4f7fb"/>
<path d="M-9.4 1296.5 L-9.4 1335.2 Q-9.4 1338.2 -6.4 1338.2 L6.4 1338.2 Q9.4 1338.2 9.4 1335.2 L9.4 1296.5 Z" fill="url(#sockgrad)" transform="translate(1075.0 0)"/>
<rect x="1066.1" y="1333.3" width="17.8" height="4.0" fill="#1c24a6" opacity="0.75"/>
<circle cx="1075.0" cy="1308.9" r="1.7" fill="#f1f4fb" stroke="#1a2190" stroke-width="1.2"/>
<g transform="translate(1314.0 1300.5) rotate(0.311)">
<rect x="-7.6" y="-1107.5" width="15.2" height="1107.5" fill="url(#polegrad)"/>
<line x1="-7.6" y1="-882.5" x2="7.6" y2="-882.5" stroke="#9aa0aa" stroke-width="1"/>
<circle cx="0" cy="-871.5" r="1.6" fill="#eef0f4" stroke="#8a8f99" stroke-width="0.8"/>
<line x1="-7.6" y1="-587.0" x2="7.6" y2="-587.0" stroke="#9aa0aa" stroke-width="1"/>
<circle cx="0" cy="-576.0" r="1.6" fill="#eef0f4" stroke="#8a8f99" stroke-width="0.8"/>
<line x1="-7.6" y1="-291.0" x2="7.6" y2="-291.0" stroke="#9aa0aa" stroke-width="1"/>
<circle cx="0" cy="-280.0" r="1.6" fill="#eef0f4" stroke="#8a8f99" stroke-width="0.8"/>
<path d="M-9.8 -1101.5 L-8.6 -1191.5 Q-8.6 -1197.5 -3.8 -1197.5 L3.8 -1197.5 Q8.6 -1197.5 8.6 -1191.5 L9.8 -1101.5 Z" fill="url(#gripgrad)"/>
<path d="M2 -1193.9 C7.4 -1193.9 7.8 -1187.5 4.8 -1181.5 Q3 -1177.5 2 -1176.0 Q0.4 -1177.5 -2.2 -1182.5 C-4.8 -1188.5 -3.8 -1193.9 2 -1193.9 Z" fill="#f1f5fd"/>
</g>
<path d="M1223.2 1296.5 L1404.8 1296.5 Q1402.2 1370.7 1404.0 1430.3 L1404.0 1430.3 L1403.7 1455.5 L1402.9 1462.2 L1400.2 1455.5 L1400.0 1434.8 C1400.0 1429.0 1389.8 1429.0 1389.8 1434.8 L1389.8 1434.8 L1389.6 1455.5 L1386.9 1462.2 L1384.2 1455.5 L1384.0 1434.8 C1384.0 1429.0 1375.2 1429.0 1375.2 1434.8 L1375.2 1434.8 L1375.0 1455.5 L1372.3 1462.2 L1369.7 1455.5 L1369.4 1434.8 C1369.4 1429.0 1360.7 1429.0 1360.7 1434.8 L1360.7 1434.8 L1360.4 1455.5 L1357.7 1462.2 L1355.1 1455.5 L1354.8 1434.8 C1354.8 1429.0 1346.1 1429.0 1346.1 1434.8 L1346.1 1434.8 L1345.8 1455.5 L1343.2 1462.2 L1340.5 1455.5 L1340.2 1434.8 C1340.2 1429.0 1331.5 1429.0 1331.5 1434.8 L1331.5 1434.8 L1331.2 1455.5 L1328.6 1462.2 L1325.9 1455.5 L1325.7 1434.8 C1325.7 1429.0 1316.9 1429.0 1316.9 1434.8 L1316.9 1434.8 L1316.7 1455.5 L1314.0 1462.2 L1311.3 1455.5 L1311.1 1434.8 C1311.1 1429.0 1302.3 1429.0 1302.3 1434.8 L1302.3 1434.8 L1302.1 1455.5 L1299.4 1462.2 L1296.8 1455.5 L1296.5 1434.8 C1296.5 1429.0 1287.8 1429.0 1287.8 1434.8 L1287.8 1434.8 L1287.5 1455.5 L1284.8 1462.2 L1282.2 1455.5 L1281.9 1434.8 C1281.9 1429.0 1273.2 1429.0 1273.2 1434.8 L1273.2 1434.8 L1272.9 1455.5 L1270.3 1462.2 L1267.6 1455.5 L1267.3 1434.8 C1267.3 1429.0 1258.6 1429.0 1258.6 1434.8 L1258.6 1434.8 L1258.3 1455.5 L1255.7 1462.2 L1253.0 1455.5 L1252.8 1434.8 C1252.8 1429.0 1244.0 1429.0 1244.0 1434.8 L1244.0 1434.8 L1243.8 1455.5 L1241.1 1462.2 L1238.4 1455.5 L1238.2 1434.8 C1238.2 1429.0 1228.0 1429.0 1228.0 1434.8 L1228.0 1434.8 L1227.8 1455.5 L1225.1 1462.2 L1224.3 1455.5 L1224.0 1430.3 Q1225.8 1370.7 1223.2 1296.5 Z" fill="#2a35c2"/>
<rect x="1224.2" y="1297.0" width="179.7" height="2.8" fill="#3a48cf" opacity="0.6"/>
<path d="M1236.1 1304.0 L1246.1 1304.0 L1246.1 1308.5 L1241.1 1311.9 L1236.1 1308.5Z M1250.7 1304.0 L1260.7 1304.0 L1260.7 1308.5 L1255.7 1311.9 L1250.7 1308.5Z M1265.3 1304.0 L1275.3 1304.0 L1275.3 1308.5 L1270.3 1311.9 L1265.3 1308.5Z M1279.8 1304.0 L1289.8 1304.0 L1289.8 1308.5 L1284.8 1311.9 L1279.8 1308.5Z M1338.2 1304.0 L1348.2 1304.0 L1348.2 1308.5 L1343.2 1311.9 L1338.2 1308.5Z M1352.7 1304.0 L1362.7 1304.0 L1362.7 1308.5 L1357.7 1311.9 L1352.7 1308.5Z M1367.3 1304.0 L1377.3 1304.0 L1377.3 1308.5 L1372.3 1311.9 L1367.3 1308.5Z M1381.9 1304.0 L1391.9 1304.0 L1391.9 1308.5 L1386.9 1311.9 L1381.9 1308.5Z M1233.8 1315.6 L1238.8 1318.5 L1238.8 1324.2 L1233.8 1327.0 L1228.8 1324.2 L1228.8 1318.5Z M1248.4 1315.6 L1253.4 1318.5 L1253.4 1324.2 L1248.4 1327.0 L1243.4 1324.2 L1243.4 1318.5Z M1263.0 1315.6 L1268.0 1318.5 L1268.0 1324.2 L1263.0 1327.0 L1258.0 1324.2 L1258.0 1318.5Z M1277.5 1315.6 L1282.6 1318.5 L1282.6 1324.2 L1277.5 1327.0 L1272.5 1324.2 L1272.5 1318.5Z M1292.1 1315.6 L1297.1 1318.5 L1297.1 1324.2 L1292.1 1327.0 L1287.1 1324.2 L1287.1 1318.5Z M1335.9 1315.6 L1340.9 1318.5 L1340.9 1324.2 L1335.9 1327.0 L1330.9 1324.2 L1330.9 1318.5Z M1350.5 1315.6 L1355.5 1318.5 L1355.5 1324.2 L1350.5 1327.0 L1345.4 1324.2 L1345.4 1318.5Z M1365.0 1315.6 L1370.0 1318.5 L1370.0 1324.2 L1365.0 1327.0 L1360.0 1324.2 L1360.0 1318.5Z M1379.6 1315.6 L1384.6 1318.5 L1384.6 1324.2 L1379.6 1327.0 L1374.6 1324.2 L1374.6 1318.5Z M1394.2 1315.6 L1399.2 1318.5 L1399.2 1324.2 L1394.2 1327.0 L1389.2 1324.2 L1389.2 1318.5Z M1241.1 1331.3 L1246.1 1334.2 L1246.1 1339.8 L1241.1 1342.7 L1236.1 1339.8 L1236.1 1334.2Z M1255.7 1331.3 L1260.7 1334.2 L1260.7 1339.8 L1255.7 1342.7 L1250.7 1339.8 L1250.7 1334.2Z M1270.3 1331.3 L1275.3 1334.2 L1275.3 1339.8 L1270.3 1342.7 L1265.3 1339.8 L1265.3 1334.2Z M1284.8 1331.3 L1289.8 1334.2 L1289.8 1339.8 L1284.8 1342.7 L1279.8 1339.8 L1279.8 1334.2Z M1343.2 1331.3 L1348.2 1334.2 L1348.2 1339.8 L1343.2 1342.7 L1338.2 1339.8 L1338.2 1334.2Z M1357.7 1331.3 L1362.7 1334.2 L1362.7 1339.8 L1357.7 1342.7 L1352.7 1339.8 L1352.7 1334.2Z M1372.3 1331.3 L1377.3 1334.2 L1377.3 1339.8 L1372.3 1342.7 L1367.3 1339.8 L1367.3 1334.2Z M1386.9 1331.3 L1391.9 1334.2 L1391.9 1339.8 L1386.9 1342.7 L1381.9 1339.8 L1381.9 1334.2Z M1233.8 1344.3 L1238.8 1347.1 L1238.8 1352.8 L1233.8 1355.6 L1228.8 1352.8 L1228.8 1347.1Z M1248.4 1344.3 L1253.4 1347.1 L1253.4 1352.8 L1248.4 1355.6 L1243.4 1352.8 L1243.4 1347.1Z M1263.0 1344.3 L1268.0 1347.1 L1268.0 1352.8 L1263.0 1355.6 L1258.0 1352.8 L1258.0 1347.1Z M1277.5 1344.3 L1282.6 1347.1 L1282.6 1352.8 L1277.5 1355.6 L1272.5 1352.8 L1272.5 1347.1Z M1292.1 1344.3 L1297.1 1347.1 L1297.1 1352.8 L1292.1 1355.6 L1287.1 1352.8 L1287.1 1347.1Z M1306.7 1344.3 L1311.7 1347.1 L1311.7 1352.8 L1306.7 1355.6 L1301.7 1352.8 L1301.7 1347.1Z M1321.3 1344.3 L1326.3 1347.1 L1326.3 1352.8 L1321.3 1355.6 L1316.3 1352.8 L1316.3 1347.1Z M1335.9 1344.3 L1340.9 1347.1 L1340.9 1352.8 L1335.9 1355.6 L1330.9 1352.8 L1330.9 1347.1Z M1350.5 1344.3 L1355.5 1347.1 L1355.5 1352.8 L1350.5 1355.6 L1345.4 1352.8 L1345.4 1347.1Z M1365.0 1344.3 L1370.0 1347.1 L1370.0 1352.8 L1365.0 1355.6 L1360.0 1352.8 L1360.0 1347.1Z M1379.6 1344.3 L1384.6 1347.1 L1384.6 1352.8 L1379.6 1355.6 L1374.6 1352.8 L1374.6 1347.1Z M1394.2 1344.3 L1399.2 1347.1 L1399.2 1352.8 L1394.2 1355.6 L1389.2 1352.8 L1389.2 1347.1Z M1241.1 1358.5 L1246.1 1361.3 L1246.1 1367.0 L1241.1 1369.8 L1236.1 1367.0 L1236.1 1361.3Z M1255.7 1358.5 L1260.7 1361.3 L1260.7 1367.0 L1255.7 1369.8 L1250.7 1367.0 L1250.7 1361.3Z M1270.3 1358.5 L1275.3 1361.3 L1275.3 1367.0 L1270.3 1369.8 L1265.3 1367.0 L1265.3 1361.3Z M1284.8 1358.5 L1289.8 1361.3 L1289.8 1367.0 L1284.8 1369.8 L1279.8 1367.0 L1279.8 1361.3Z M1299.4 1358.5 L1304.4 1361.3 L1304.4 1367.0 L1299.4 1369.8 L1294.4 1367.0 L1294.4 1361.3Z M1314.0 1358.5 L1319.0 1361.3 L1319.0 1367.0 L1314.0 1369.8 L1309.0 1367.0 L1309.0 1361.3Z M1328.6 1358.5 L1333.6 1361.3 L1333.6 1367.0 L1328.6 1369.8 L1323.6 1367.0 L1323.6 1361.3Z M1343.2 1358.5 L1348.2 1361.3 L1348.2 1367.0 L1343.2 1369.8 L1338.2 1367.0 L1338.2 1361.3Z M1357.7 1358.5 L1362.7 1361.3 L1362.7 1367.0 L1357.7 1369.8 L1352.7 1367.0 L1352.7 1361.3Z M1372.3 1358.5 L1377.3 1361.3 L1377.3 1367.0 L1372.3 1369.8 L1367.3 1367.0 L1367.3 1361.3Z M1386.9 1358.5 L1391.9 1361.3 L1391.9 1367.0 L1386.9 1369.8 L1381.9 1367.0 L1381.9 1361.3Z M1233.8 1373.3 L1238.8 1376.1 L1238.8 1381.8 L1233.8 1384.6 L1228.8 1381.8 L1228.8 1376.1Z M1248.4 1373.3 L1253.4 1376.1 L1253.4 1381.8 L1248.4 1384.6 L1243.4 1381.8 L1243.4 1376.1Z M1263.0 1373.3 L1268.0 1376.1 L1268.0 1381.8 L1263.0 1384.6 L1258.0 1381.8 L1258.0 1376.1Z M1277.5 1373.3 L1282.6 1376.1 L1282.6 1381.8 L1277.5 1384.6 L1272.5 1381.8 L1272.5 1376.1Z M1292.1 1373.3 L1297.1 1376.1 L1297.1 1381.8 L1292.1 1384.6 L1287.1 1381.8 L1287.1 1376.1Z M1306.7 1373.3 L1311.7 1376.1 L1311.7 1381.8 L1306.7 1384.6 L1301.7 1381.8 L1301.7 1376.1Z M1321.3 1373.3 L1326.3 1376.1 L1326.3 1381.8 L1321.3 1384.6 L1316.3 1381.8 L1316.3 1376.1Z M1335.9 1373.3 L1340.9 1376.1 L1340.9 1381.8 L1335.9 1384.6 L1330.9 1381.8 L1330.9 1376.1Z M1350.5 1373.3 L1355.5 1376.1 L1355.5 1381.8 L1350.5 1384.6 L1345.4 1381.8 L1345.4 1376.1Z M1365.0 1373.3 L1370.0 1376.1 L1370.0 1381.8 L1365.0 1384.6 L1360.0 1381.8 L1360.0 1376.1Z M1379.6 1373.3 L1384.6 1376.1 L1384.6 1381.8 L1379.6 1384.6 L1374.6 1381.8 L1374.6 1376.1Z M1394.2 1373.3 L1399.2 1376.1 L1399.2 1381.8 L1394.2 1384.6 L1389.2 1381.8 L1389.2 1376.1Z M1241.1 1386.6 L1246.1 1389.4 L1246.1 1395.1 L1241.1 1397.9 L1236.1 1395.1 L1236.1 1389.4Z M1255.7 1386.6 L1260.7 1389.4 L1260.7 1395.1 L1255.7 1397.9 L1250.7 1395.1 L1250.7 1389.4Z M1270.3 1386.6 L1275.3 1389.4 L1275.3 1395.1 L1270.3 1397.9 L1265.3 1395.1 L1265.3 1389.4Z M1284.8 1386.6 L1289.8 1389.4 L1289.8 1395.1 L1284.8 1397.9 L1279.8 1395.1 L1279.8 1389.4Z M1299.4 1386.6 L1304.4 1389.4 L1304.4 1395.1 L1299.4 1397.9 L1294.4 1395.1 L1294.4 1389.4Z M1314.0 1386.6 L1319.0 1389.4 L1319.0 1395.1 L1314.0 1397.9 L1309.0 1395.1 L1309.0 1389.4Z M1328.6 1386.6 L1333.6 1389.4 L1333.6 1395.1 L1328.6 1397.9 L1323.6 1395.1 L1323.6 1389.4Z M1343.2 1386.6 L1348.2 1389.4 L1348.2 1395.1 L1343.2 1397.9 L1338.2 1395.1 L1338.2 1389.4Z M1357.7 1386.6 L1362.7 1389.4 L1362.7 1395.1 L1357.7 1397.9 L1352.7 1395.1 L1352.7 1389.4Z M1372.3 1386.6 L1377.3 1389.4 L1377.3 1395.1 L1372.3 1397.9 L1367.3 1395.1 L1367.3 1389.4Z M1386.9 1386.6 L1391.9 1389.4 L1391.9 1395.1 L1386.9 1397.9 L1381.9 1395.1 L1381.9 1389.4Z M1233.8 1401.4 L1238.8 1404.2 L1238.8 1409.9 L1233.8 1412.7 L1228.8 1409.9 L1228.8 1404.2Z M1248.4 1401.4 L1253.4 1404.2 L1253.4 1409.9 L1248.4 1412.7 L1243.4 1409.9 L1243.4 1404.2Z M1263.0 1401.4 L1268.0 1404.2 L1268.0 1409.9 L1263.0 1412.7 L1258.0 1409.9 L1258.0 1404.2Z M1277.5 1401.4 L1282.6 1404.2 L1282.6 1409.9 L1277.5 1412.7 L1272.5 1409.9 L1272.5 1404.2Z M1292.1 1401.4 L1297.1 1404.2 L1297.1 1409.9 L1292.1 1412.7 L1287.1 1409.9 L1287.1 1404.2Z M1306.7 1401.4 L1311.7 1404.2 L1311.7 1409.9 L1306.7 1412.7 L1301.7 1409.9 L1301.7 1404.2Z M1321.3 1401.4 L1326.3 1404.2 L1326.3 1409.9 L1321.3 1412.7 L1316.3 1409.9 L1316.3 1404.2Z M1335.9 1401.4 L1340.9 1404.2 L1340.9 1409.9 L1335.9 1412.7 L1330.9 1409.9 L1330.9 1404.2Z M1350.5 1401.4 L1355.5 1404.2 L1355.5 1409.9 L1350.5 1412.7 L1345.4 1409.9 L1345.4 1404.2Z M1365.0 1401.4 L1370.0 1404.2 L1370.0 1409.9 L1365.0 1412.7 L1360.0 1409.9 L1360.0 1404.2Z M1379.6 1401.4 L1384.6 1404.2 L1384.6 1409.9 L1379.6 1412.7 L1374.6 1409.9 L1374.6 1404.2Z M1394.2 1401.4 L1399.2 1404.2 L1399.2 1409.9 L1394.2 1412.7 L1389.2 1409.9 L1389.2 1404.2Z M1241.1 1416.1 L1246.1 1418.9 L1246.1 1424.6 L1241.1 1427.4 L1236.1 1424.6 L1236.1 1418.9Z M1255.7 1416.1 L1260.7 1418.9 L1260.7 1424.6 L1255.7 1427.4 L1250.7 1424.6 L1250.7 1418.9Z M1270.3 1416.1 L1275.3 1418.9 L1275.3 1424.6 L1270.3 1427.4 L1265.3 1424.6 L1265.3 1418.9Z M1284.8 1416.1 L1289.8 1418.9 L1289.8 1424.6 L1284.8 1427.4 L1279.8 1424.6 L1279.8 1418.9Z M1299.4 1416.1 L1304.4 1418.9 L1304.4 1424.6 L1299.4 1427.4 L1294.4 1424.6 L1294.4 1418.9Z M1314.0 1416.1 L1319.0 1418.9 L1319.0 1424.6 L1314.0 1427.4 L1309.0 1424.6 L1309.0 1418.9Z M1328.6 1416.1 L1333.6 1418.9 L1333.6 1424.6 L1328.6 1427.4 L1323.6 1424.6 L1323.6 1418.9Z M1343.2 1416.1 L1348.2 1418.9 L1348.2 1424.6 L1343.2 1427.4 L1338.2 1424.6 L1338.2 1418.9Z M1357.7 1416.1 L1362.7 1418.9 L1362.7 1424.6 L1357.7 1427.4 L1352.7 1424.6 L1352.7 1418.9Z M1372.3 1416.1 L1377.3 1418.9 L1377.3 1424.6 L1372.3 1427.4 L1367.3 1424.6 L1367.3 1418.9Z M1386.9 1416.1 L1391.9 1418.9 L1391.9 1424.6 L1386.9 1427.4 L1381.9 1424.6 L1381.9 1418.9Z" fill="#f4f7fb"/>
<path d="M-9.4 1296.5 L-9.4 1335.2 Q-9.4 1338.2 -6.4 1338.2 L6.4 1338.2 Q9.4 1338.2 9.4 1335.2 L9.4 1296.5 Z" fill="url(#sockgrad)" transform="translate(1314.0 0)"/>
<rect x="1305.1" y="1333.3" width="17.7" height="4.0" fill="#1c24a6" opacity="0.75"/>
<circle cx="1314.0" cy="1308.9" r="1.7" fill="#f1f4fb" stroke="#1a2190" stroke-width="1.2"/>
<line x1="743.3" y1="1453.0" x2="743.3" y2="934.0" stroke="#3573dc" stroke-width="2.5"/>
<path transform="translate(743.3 924.0) rotate(-90.00)" d="M0 0 L-27.0 -7.2 L-21.7 0 L-27.0 7.2 Z" fill="#2875ee"/>
<path transform="translate(743.3 1463.0) rotate(90.00)" d="M0 0 L-27.0 -7.2 L-21.7 0 L-27.0 7.2 Z" fill="#2875ee"/>
<line x1="965.4" y1="1452.0" x2="965.4" y2="704.0" stroke="#3573dc" stroke-width="2.5"/>
<path transform="translate(965.4 694.0) rotate(-90.00)" d="M0 0 L-27.0 -7.2 L-21.7 0 L-27.0 7.2 Z" fill="#2875ee"/>
<path transform="translate(965.4 1462.0) rotate(90.00)" d="M0 0 L-27.0 -7.2 L-21.7 0 L-27.0 7.2 Z" fill="#2875ee"/>
<line x1="1190.7" y1="1450.0" x2="1190.7" y2="400.0" stroke="#3573dc" stroke-width="2.5"/>
<path transform="translate(1190.7 390.0) rotate(-90.00)" d="M0 0 L-27.0 -7.2 L-21.7 0 L-27.0 7.2 Z" fill="#2875ee"/>
<path transform="translate(1190.7 1460.0) rotate(90.00)" d="M0 0 L-27.0 -7.2 L-21.7 0 L-27.0 7.2 Z" fill="#2875ee"/>
<line x1="1431.4" y1="1452.0" x2="1431.4" y2="106.0" stroke="#3573dc" stroke-width="2.5"/>
<path transform="translate(1431.4 96.0) rotate(-90.00)" d="M0 0 L-27.0 -7.2 L-21.7 0 L-27.0 7.2 Z" fill="#2875ee"/>
<path transform="translate(1431.4 1462.0) rotate(90.00)" d="M0 0 L-27.0 -7.2 L-21.7 0 L-27.0 7.2 Z" fill="#2875ee"/>
<line x1="7.9" y1="613.8" x2="325.7" y2="863.0" stroke="#3573dc" stroke-width="2.5"/>
<path transform="translate(333.6 869.2) rotate(38.10)" d="M0 0 L-27.0 -7.2 L-21.7 0 L-27.0 7.2 Z" fill="#2875ee"/>
<path transform="translate(0.0 607.6) rotate(218.10)" d="M0 0 L-27.0 -7.2 L-21.7 0 L-27.0 7.2 Z" fill="#2875ee"/>
<line x1="343.2" y1="864.8" x2="704.8" y2="706.0" stroke="#3573dc" stroke-width="2.5"/>
<path transform="translate(714.0 702.0) rotate(-23.70)" d="M0 0 L-27.0 -7.2 L-21.7 0 L-27.0 7.2 Z" fill="#2875ee"/>
<path transform="translate(334.0 868.8) rotate(156.30)" d="M0 0 L-27.0 -7.2 L-21.7 0 L-27.0 7.2 Z" fill="#2875ee"/>
<line x1="490.7" y1="442.0" x2="490.7" y2="548.0" stroke="#f3f6ff" stroke-width="3.2"/>
<path transform="translate(490.7 558.0) rotate(90.00)" d="M0 0 L-24.0 -7.5 L-19.0 0 L-24.0 7.5 Z" fill="#f3f6ff"/>
<path transform="translate(490.7 432.0) rotate(270.00)" d="M0 0 L-24.0 -7.5 L-19.0 0 L-24.0 7.5 Z" fill="#f3f6ff"/>
<text transform="translate(763.0 1083.0) rotate(90.00)" font-size="40.8" textLength="191.0" lengthAdjust="spacingAndGlyphs" class="l">61cm/24in</text>
<text transform="translate(981.2 964.0) rotate(90.00)" font-size="40.8" textLength="240.0" lengthAdjust="spacingAndGlyphs" class="l">100cm/39.4in</text>
<text transform="translate(1204.0 756.0) rotate(90.00)" font-size="39.2" textLength="240.0" lengthAdjust="spacingAndGlyphs" class="l">140cm/55.1in</text>
<text transform="translate(1446.6 600.0) rotate(90.00)" font-size="39.2" textLength="241.0" lengthAdjust="spacingAndGlyphs" class="l">180cm/70.9in</text>
<text transform="translate(487.6 423.7) rotate(4.40)" font-size="35.5" textLength="200.0" lengthAdjust="spacingAndGlyphs" class="l">6cm/2.36in</text>
<text transform="translate(46.8 695.2) rotate(39.90)" font-size="36.2" textLength="219.0" lengthAdjust="spacingAndGlyphs" class="l">22cm/8.66in</text>
<text transform="translate(431.5 874.0) rotate(-23.10)" font-size="35.5" textLength="254.5" lengthAdjust="spacingAndGlyphs" class="l">24.5cm/9.65in</text>
</svg></body></html>
